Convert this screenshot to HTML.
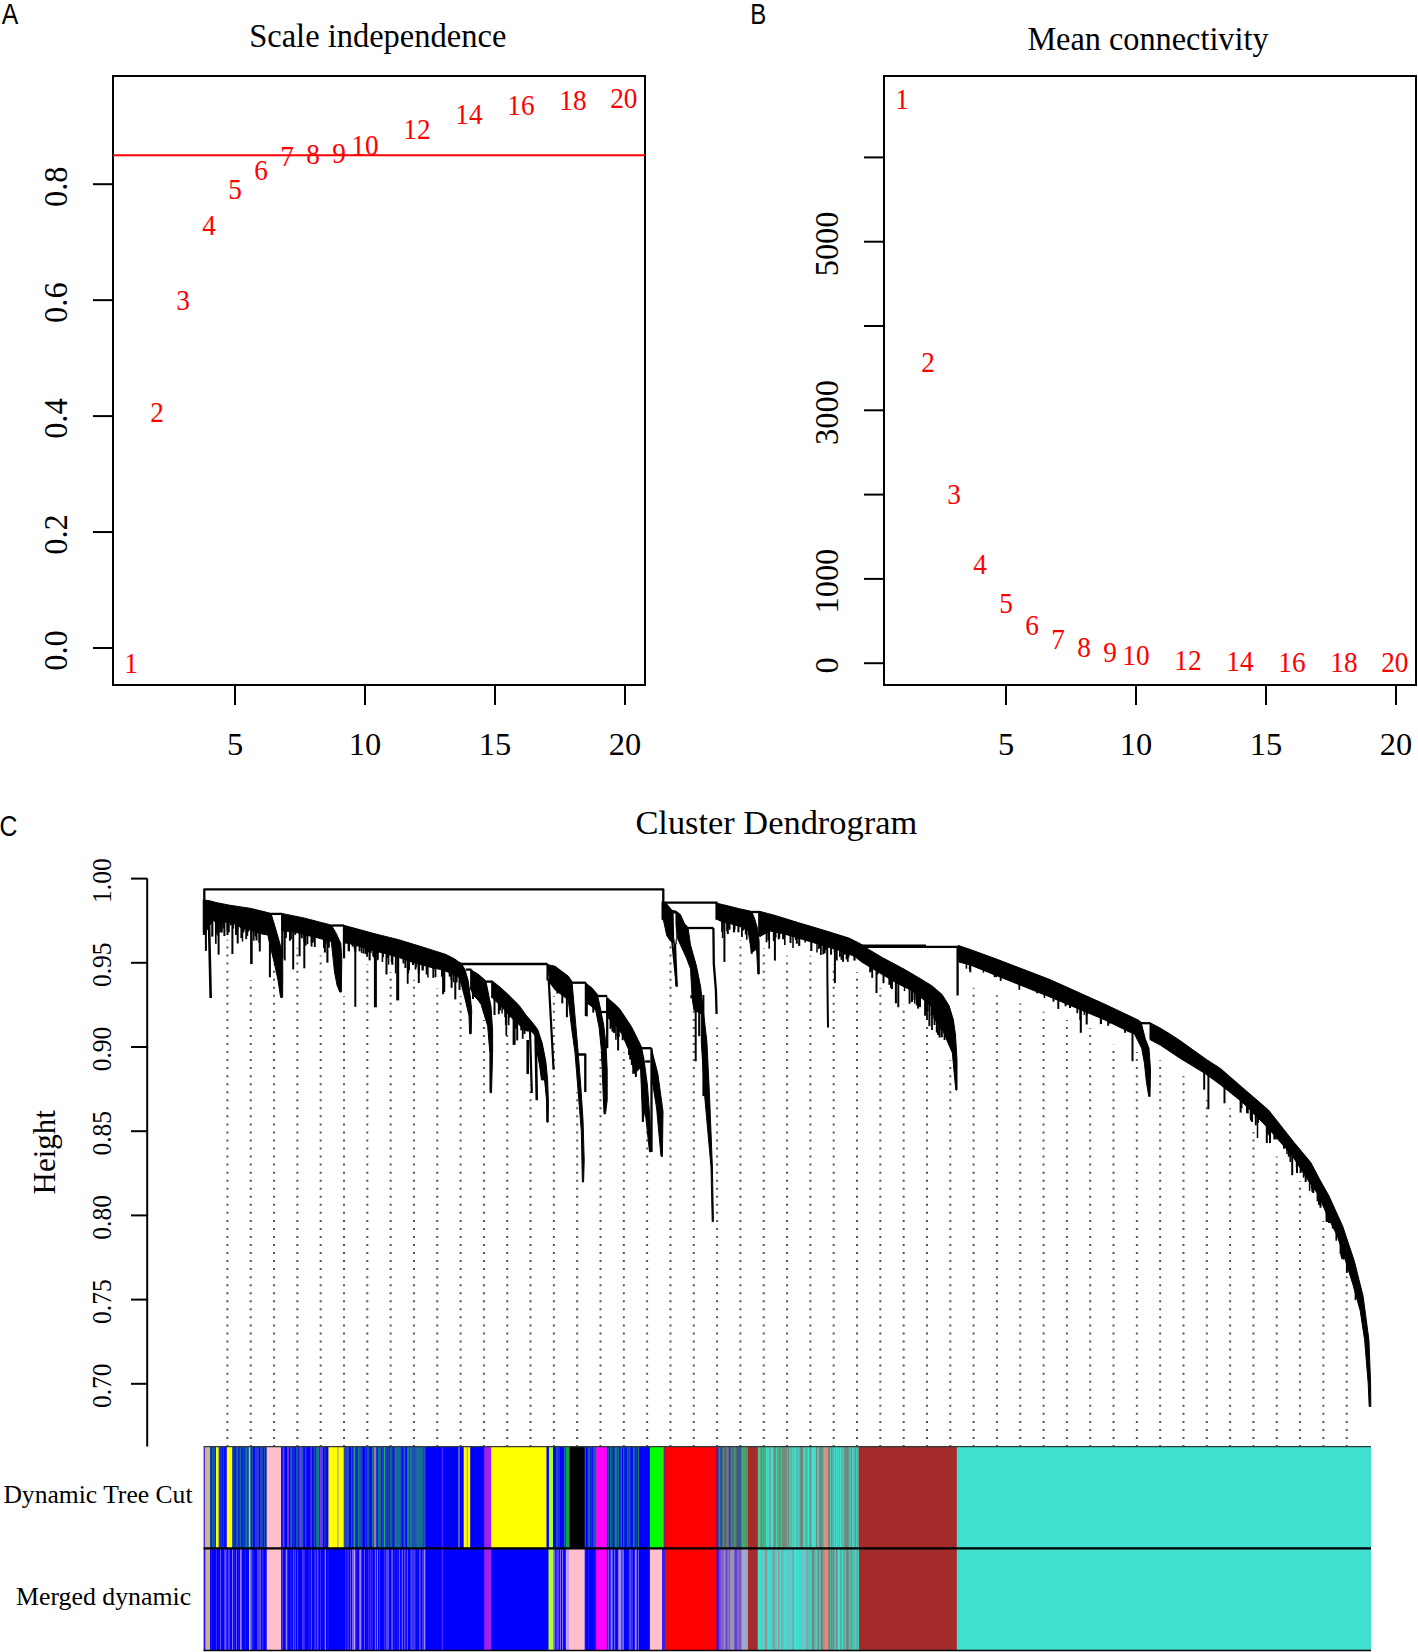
<!DOCTYPE html>
<html><head><meta charset="utf-8"><title>WGCNA figure</title>
<style>html,body{margin:0;padding:0;background:#fff;}svg{display:block;}</style></head>
<body><svg width="1418" height="1652" viewBox="0 0 1418 1652">
<rect x="0" y="0" width="1418" height="1652" fill="#fff"/>
<text transform="translate(1.7 24.1) scale(0.9 1.047)" x="0" y="0" font-family="&apos;Liberation Sans&apos;, sans-serif" font-size="27.5">A</text>
<text transform="translate(377.75 46.50) scale(1 1.03)" x="0" y="0" font-family="&apos;Liberation Serif&apos;, serif" font-size="32.5" text-anchor="middle" fill="#000">Scale independence</text>
<rect x="113" y="76" width="532" height="609" fill="none" stroke="#000" stroke-width="2"/>
<line x1="93.00" y1="648.00" x2="113.00" y2="648.00" stroke="#000" stroke-width="2" />
<text transform="translate(66.80 650.50) rotate(-90) scale(1 1.04)" x="0" y="0" font-family="&apos;Liberation Serif&apos;, serif" font-size="32.4" text-anchor="middle" fill="#000">0.0</text>
<line x1="93.00" y1="532.05" x2="113.00" y2="532.05" stroke="#000" stroke-width="2" />
<text transform="translate(66.80 534.55) rotate(-90) scale(1 1.04)" x="0" y="0" font-family="&apos;Liberation Serif&apos;, serif" font-size="32.4" text-anchor="middle" fill="#000">0.2</text>
<line x1="93.00" y1="416.10" x2="113.00" y2="416.10" stroke="#000" stroke-width="2" />
<text transform="translate(66.80 418.60) rotate(-90) scale(1 1.04)" x="0" y="0" font-family="&apos;Liberation Serif&apos;, serif" font-size="32.4" text-anchor="middle" fill="#000">0.4</text>
<line x1="93.00" y1="300.15" x2="113.00" y2="300.15" stroke="#000" stroke-width="2" />
<text transform="translate(66.80 302.65) rotate(-90) scale(1 1.04)" x="0" y="0" font-family="&apos;Liberation Serif&apos;, serif" font-size="32.4" text-anchor="middle" fill="#000">0.6</text>
<line x1="93.00" y1="184.20" x2="113.00" y2="184.20" stroke="#000" stroke-width="2" />
<text transform="translate(66.80 186.70) rotate(-90) scale(1 1.04)" x="0" y="0" font-family="&apos;Liberation Serif&apos;, serif" font-size="32.4" text-anchor="middle" fill="#000">0.8</text>
<line x1="235.00" y1="685.00" x2="235.00" y2="705.00" stroke="#000" stroke-width="2" />
<text x="235.00" y="755.20" font-family="&apos;Liberation Serif&apos;, serif" font-size="32.4" text-anchor="middle" fill="#000">5</text>
<line x1="365.00" y1="685.00" x2="365.00" y2="705.00" stroke="#000" stroke-width="2" />
<text x="365.00" y="755.20" font-family="&apos;Liberation Serif&apos;, serif" font-size="32.4" text-anchor="middle" fill="#000">10</text>
<line x1="495.00" y1="685.00" x2="495.00" y2="705.00" stroke="#000" stroke-width="2" />
<text x="495.00" y="755.20" font-family="&apos;Liberation Serif&apos;, serif" font-size="32.4" text-anchor="middle" fill="#000">15</text>
<line x1="625.00" y1="685.00" x2="625.00" y2="705.00" stroke="#000" stroke-width="2" />
<text x="625.00" y="755.20" font-family="&apos;Liberation Serif&apos;, serif" font-size="32.4" text-anchor="middle" fill="#000">20</text>
<line x1="113.00" y1="155.20" x2="645.00" y2="155.20" stroke="#FF0000" stroke-width="2" />
<text transform="translate(131.00 672.80) scale(1 1.055)" x="0" y="0" font-family="&apos;Liberation Serif&apos;, serif" font-size="27.3" text-anchor="middle" fill="#FF0000">1</text>
<text transform="translate(157.00 421.90) scale(1 1.055)" x="0" y="0" font-family="&apos;Liberation Serif&apos;, serif" font-size="27.3" text-anchor="middle" fill="#FF0000">2</text>
<text transform="translate(183.00 310.10) scale(1 1.055)" x="0" y="0" font-family="&apos;Liberation Serif&apos;, serif" font-size="27.3" text-anchor="middle" fill="#FF0000">3</text>
<text transform="translate(209.00 234.50) scale(1 1.055)" x="0" y="0" font-family="&apos;Liberation Serif&apos;, serif" font-size="27.3" text-anchor="middle" fill="#FF0000">4</text>
<text transform="translate(235.00 199.20) scale(1 1.055)" x="0" y="0" font-family="&apos;Liberation Serif&apos;, serif" font-size="27.3" text-anchor="middle" fill="#FF0000">5</text>
<text transform="translate(261.00 180.30) scale(1 1.055)" x="0" y="0" font-family="&apos;Liberation Serif&apos;, serif" font-size="27.3" text-anchor="middle" fill="#FF0000">6</text>
<text transform="translate(287.00 165.80) scale(1 1.055)" x="0" y="0" font-family="&apos;Liberation Serif&apos;, serif" font-size="27.3" text-anchor="middle" fill="#FF0000">7</text>
<text transform="translate(313.00 164.00) scale(1 1.055)" x="0" y="0" font-family="&apos;Liberation Serif&apos;, serif" font-size="27.3" text-anchor="middle" fill="#FF0000">8</text>
<text transform="translate(339.00 162.70) scale(1 1.055)" x="0" y="0" font-family="&apos;Liberation Serif&apos;, serif" font-size="27.3" text-anchor="middle" fill="#FF0000">9</text>
<text transform="translate(365.00 155.20) scale(1 1.055)" x="0" y="0" font-family="&apos;Liberation Serif&apos;, serif" font-size="27.3" text-anchor="middle" fill="#FF0000">10</text>
<text transform="translate(417.00 138.50) scale(1 1.055)" x="0" y="0" font-family="&apos;Liberation Serif&apos;, serif" font-size="27.3" text-anchor="middle" fill="#FF0000">12</text>
<text transform="translate(469.00 123.60) scale(1 1.055)" x="0" y="0" font-family="&apos;Liberation Serif&apos;, serif" font-size="27.3" text-anchor="middle" fill="#FF0000">14</text>
<text transform="translate(521.00 114.70) scale(1 1.055)" x="0" y="0" font-family="&apos;Liberation Serif&apos;, serif" font-size="27.3" text-anchor="middle" fill="#FF0000">16</text>
<text transform="translate(573.00 110.20) scale(1 1.055)" x="0" y="0" font-family="&apos;Liberation Serif&apos;, serif" font-size="27.3" text-anchor="middle" fill="#FF0000">18</text>
<text transform="translate(623.80 108.40) scale(1 1.055)" x="0" y="0" font-family="&apos;Liberation Serif&apos;, serif" font-size="27.3" text-anchor="middle" fill="#FF0000">20</text>
<text transform="translate(750.2 24.3) scale(0.87 1.07)" x="0" y="0" font-family="&apos;Liberation Sans&apos;, sans-serif" font-size="27.5">B</text>
<text transform="translate(1148.00 49.60) scale(1 1.05)" x="0" y="0" font-family="&apos;Liberation Serif&apos;, serif" font-size="32.3" text-anchor="middle" fill="#000">Mean connectivity</text>
<rect x="884" y="76" width="532" height="609" fill="none" stroke="#000" stroke-width="2"/>
<line x1="864.00" y1="663.20" x2="884.00" y2="663.20" stroke="#000" stroke-width="2" />
<text transform="translate(838.00 665.40) rotate(-90) scale(1 1.04)" x="0" y="0" font-family="&apos;Liberation Serif&apos;, serif" font-size="32.4" text-anchor="middle" fill="#000">0</text>
<line x1="864.00" y1="578.90" x2="884.00" y2="578.90" stroke="#000" stroke-width="2" />
<text transform="translate(838.00 581.10) rotate(-90) scale(1 1.04)" x="0" y="0" font-family="&apos;Liberation Serif&apos;, serif" font-size="32.4" text-anchor="middle" fill="#000">1000</text>
<line x1="864.00" y1="494.60" x2="884.00" y2="494.60" stroke="#000" stroke-width="2" />
<line x1="864.00" y1="410.30" x2="884.00" y2="410.30" stroke="#000" stroke-width="2" />
<text transform="translate(838.00 412.50) rotate(-90) scale(1 1.04)" x="0" y="0" font-family="&apos;Liberation Serif&apos;, serif" font-size="32.4" text-anchor="middle" fill="#000">3000</text>
<line x1="864.00" y1="326.00" x2="884.00" y2="326.00" stroke="#000" stroke-width="2" />
<line x1="864.00" y1="241.70" x2="884.00" y2="241.70" stroke="#000" stroke-width="2" />
<text transform="translate(838.00 243.90) rotate(-90) scale(1 1.04)" x="0" y="0" font-family="&apos;Liberation Serif&apos;, serif" font-size="32.4" text-anchor="middle" fill="#000">5000</text>
<line x1="864.00" y1="157.40" x2="884.00" y2="157.40" stroke="#000" stroke-width="2" />
<line x1="1006.00" y1="685.00" x2="1006.00" y2="705.00" stroke="#000" stroke-width="2" />
<text x="1006.00" y="755.20" font-family="&apos;Liberation Serif&apos;, serif" font-size="32.4" text-anchor="middle" fill="#000">5</text>
<line x1="1136.00" y1="685.00" x2="1136.00" y2="705.00" stroke="#000" stroke-width="2" />
<text x="1136.00" y="755.20" font-family="&apos;Liberation Serif&apos;, serif" font-size="32.4" text-anchor="middle" fill="#000">10</text>
<line x1="1266.00" y1="685.00" x2="1266.00" y2="705.00" stroke="#000" stroke-width="2" />
<text x="1266.00" y="755.20" font-family="&apos;Liberation Serif&apos;, serif" font-size="32.4" text-anchor="middle" fill="#000">15</text>
<line x1="1396.00" y1="685.00" x2="1396.00" y2="705.00" stroke="#000" stroke-width="2" />
<text x="1396.00" y="755.20" font-family="&apos;Liberation Serif&apos;, serif" font-size="32.4" text-anchor="middle" fill="#000">20</text>
<text transform="translate(902.00 108.90) scale(1 1.055)" x="0" y="0" font-family="&apos;Liberation Serif&apos;, serif" font-size="27.3" text-anchor="middle" fill="#FF0000">1</text>
<text transform="translate(928.00 371.60) scale(1 1.055)" x="0" y="0" font-family="&apos;Liberation Serif&apos;, serif" font-size="27.3" text-anchor="middle" fill="#FF0000">2</text>
<text transform="translate(954.00 504.20) scale(1 1.055)" x="0" y="0" font-family="&apos;Liberation Serif&apos;, serif" font-size="27.3" text-anchor="middle" fill="#FF0000">3</text>
<text transform="translate(980.00 574.20) scale(1 1.055)" x="0" y="0" font-family="&apos;Liberation Serif&apos;, serif" font-size="27.3" text-anchor="middle" fill="#FF0000">4</text>
<text transform="translate(1006.00 613.00) scale(1 1.055)" x="0" y="0" font-family="&apos;Liberation Serif&apos;, serif" font-size="27.3" text-anchor="middle" fill="#FF0000">5</text>
<text transform="translate(1032.00 634.80) scale(1 1.055)" x="0" y="0" font-family="&apos;Liberation Serif&apos;, serif" font-size="27.3" text-anchor="middle" fill="#FF0000">6</text>
<text transform="translate(1058.00 648.90) scale(1 1.055)" x="0" y="0" font-family="&apos;Liberation Serif&apos;, serif" font-size="27.3" text-anchor="middle" fill="#FF0000">7</text>
<text transform="translate(1084.00 656.70) scale(1 1.055)" x="0" y="0" font-family="&apos;Liberation Serif&apos;, serif" font-size="27.3" text-anchor="middle" fill="#FF0000">8</text>
<text transform="translate(1110.00 662.00) scale(1 1.055)" x="0" y="0" font-family="&apos;Liberation Serif&apos;, serif" font-size="27.3" text-anchor="middle" fill="#FF0000">9</text>
<text transform="translate(1136.00 665.10) scale(1 1.055)" x="0" y="0" font-family="&apos;Liberation Serif&apos;, serif" font-size="27.3" text-anchor="middle" fill="#FF0000">10</text>
<text transform="translate(1188.00 669.50) scale(1 1.055)" x="0" y="0" font-family="&apos;Liberation Serif&apos;, serif" font-size="27.3" text-anchor="middle" fill="#FF0000">12</text>
<text transform="translate(1240.00 670.80) scale(1 1.055)" x="0" y="0" font-family="&apos;Liberation Serif&apos;, serif" font-size="27.3" text-anchor="middle" fill="#FF0000">14</text>
<text transform="translate(1292.00 671.90) scale(1 1.055)" x="0" y="0" font-family="&apos;Liberation Serif&apos;, serif" font-size="27.3" text-anchor="middle" fill="#FF0000">16</text>
<text transform="translate(1344.00 672.30) scale(1 1.055)" x="0" y="0" font-family="&apos;Liberation Serif&apos;, serif" font-size="27.3" text-anchor="middle" fill="#FF0000">18</text>
<text transform="translate(1394.80 672.40) scale(1 1.055)" x="0" y="0" font-family="&apos;Liberation Serif&apos;, serif" font-size="27.3" text-anchor="middle" fill="#FF0000">20</text>
<text transform="translate(-0.4 836.3) scale(0.9 1.04)" x="0" y="0" font-family="&apos;Liberation Sans&apos;, sans-serif" font-size="27.5">C</text>
<text x="776.30" y="834.40" font-family="&apos;Liberation Serif&apos;, serif" font-size="34.4" text-anchor="middle" fill="#000">Cluster Dendrogram</text>
<line x1="147.20" y1="878.60" x2="147.20" y2="1446.50" stroke="#000" stroke-width="2" />
<line x1="131.00" y1="878.60" x2="147.20" y2="878.60" stroke="#000" stroke-width="2" />
<text transform="translate(111.30 880.60) rotate(-90) scale(1 1.03)" x="0" y="0" font-family="&apos;Liberation Serif&apos;, serif" font-size="25.5" text-anchor="middle" fill="#000">1.00</text>
<line x1="131.00" y1="962.80" x2="147.20" y2="962.80" stroke="#000" stroke-width="2" />
<text transform="translate(111.30 964.80) rotate(-90) scale(1 1.03)" x="0" y="0" font-family="&apos;Liberation Serif&apos;, serif" font-size="25.5" text-anchor="middle" fill="#000">0.95</text>
<line x1="131.00" y1="1047.00" x2="147.20" y2="1047.00" stroke="#000" stroke-width="2" />
<text transform="translate(111.30 1049.00) rotate(-90) scale(1 1.03)" x="0" y="0" font-family="&apos;Liberation Serif&apos;, serif" font-size="25.5" text-anchor="middle" fill="#000">0.90</text>
<line x1="131.00" y1="1131.20" x2="147.20" y2="1131.20" stroke="#000" stroke-width="2" />
<text transform="translate(111.30 1133.20) rotate(-90) scale(1 1.03)" x="0" y="0" font-family="&apos;Liberation Serif&apos;, serif" font-size="25.5" text-anchor="middle" fill="#000">0.85</text>
<line x1="131.00" y1="1215.40" x2="147.20" y2="1215.40" stroke="#000" stroke-width="2" />
<text transform="translate(111.30 1217.40) rotate(-90) scale(1 1.03)" x="0" y="0" font-family="&apos;Liberation Serif&apos;, serif" font-size="25.5" text-anchor="middle" fill="#000">0.80</text>
<line x1="131.00" y1="1299.60" x2="147.20" y2="1299.60" stroke="#000" stroke-width="2" />
<text transform="translate(111.30 1301.60) rotate(-90) scale(1 1.03)" x="0" y="0" font-family="&apos;Liberation Serif&apos;, serif" font-size="25.5" text-anchor="middle" fill="#000">0.75</text>
<line x1="131.00" y1="1383.80" x2="147.20" y2="1383.80" stroke="#000" stroke-width="2" />
<text transform="translate(111.30 1385.80) rotate(-90) scale(1 1.03)" x="0" y="0" font-family="&apos;Liberation Serif&apos;, serif" font-size="25.5" text-anchor="middle" fill="#000">0.70</text>
<text transform="translate(54.50 1152.30) rotate(-90) scale(1 1.05)" x="0" y="0" font-family="&apos;Liberation Serif&apos;, serif" font-size="31" text-anchor="middle" fill="#000">Height</text>
<text x="192.50" y="1502.60" font-family="&apos;Liberation Serif&apos;, serif" font-size="25.6" text-anchor="end" fill="#000">Dynamic Tree Cut</text>
<text x="191.10" y="1604.80" font-family="&apos;Liberation Serif&apos;, serif" font-size="25.8" text-anchor="end" fill="#000">Merged dynamic</text>
<g stroke="#555" stroke-width="2" stroke-dasharray="2 6.04"><line x1="227.40" y1="1447" x2="227.40" y2="939.8" /><line x1="250.72" y1="1447" x2="250.72" y2="980.0" /><line x1="274.04" y1="1447" x2="274.04" y2="964.0" /><line x1="297.36" y1="1447" x2="297.36" y2="947.7" /><line x1="320.68" y1="1447" x2="320.68" y2="955.6" /><line x1="344.00" y1="1447" x2="344.00" y2="996.0" /><line x1="367.31" y1="1447" x2="367.31" y2="964.0" /><line x1="390.63" y1="1447" x2="390.63" y2="971.9" /><line x1="413.95" y1="1447" x2="413.95" y2="979.8" /><line x1="437.27" y1="1447" x2="437.27" y2="988.3" /><line x1="460.59" y1="1447" x2="460.59" y2="996.0" /><line x1="483.91" y1="1447" x2="483.91" y2="1020.0" /><line x1="507.23" y1="1447" x2="507.23" y2="1028.4" /><line x1="530.55" y1="1447" x2="530.55" y2="1084.5" /><line x1="553.87" y1="1447" x2="553.87" y2="996.0" /><line x1="577.18" y1="1447" x2="577.18" y2="1092.0" /><line x1="600.50" y1="1447" x2="600.50" y2="1052.3" /><line x1="623.82" y1="1447" x2="623.82" y2="1052.2" /><line x1="647.14" y1="1447" x2="647.14" y2="1124.1" /><line x1="670.46" y1="1447" x2="670.46" y2="940.0" /><line x1="693.78" y1="1447" x2="693.78" y2="1004.0" /><line x1="717.10" y1="1447" x2="717.10" y2="1027.4" /><line x1="740.42" y1="1447" x2="740.42" y2="939.9" /><line x1="763.74" y1="1447" x2="763.74" y2="948.0" /><line x1="787.06" y1="1447" x2="787.06" y2="955.7" /><line x1="810.38" y1="1447" x2="810.38" y2="955.7" /><line x1="833.69" y1="1447" x2="833.69" y2="964.2" /><line x1="857.01" y1="1447" x2="857.01" y2="971.9" /><line x1="880.33" y1="1447" x2="880.33" y2="988.1" /><line x1="903.65" y1="1447" x2="903.65" y2="1004.4" /><line x1="926.97" y1="1447" x2="926.97" y2="1024.9" /><line x1="950.29" y1="1447" x2="950.29" y2="1060.3" /><line x1="973.61" y1="1447" x2="973.61" y2="987.8" /><line x1="996.93" y1="1447" x2="996.93" y2="995.2" /><line x1="1020.25" y1="1447" x2="1020.25" y2="1003.4" /><line x1="1043.57" y1="1447" x2="1043.57" y2="1011.7" /><line x1="1066.88" y1="1447" x2="1066.88" y2="1019.9" /><line x1="1090.20" y1="1447" x2="1090.20" y2="1028.2" /><line x1="1113.52" y1="1447" x2="1113.52" y2="1044.7" /><line x1="1136.84" y1="1447" x2="1136.84" y2="1052.0" /><line x1="1160.16" y1="1447" x2="1160.16" y2="1060.2" /><line x1="1183.48" y1="1447" x2="1183.48" y2="1076.0" /><line x1="1206.80" y1="1447" x2="1206.80" y2="1099.9" /><line x1="1230.12" y1="1447" x2="1230.12" y2="1108.3" /><line x1="1253.44" y1="1447" x2="1253.44" y2="1132.0" /><line x1="1276.76" y1="1447" x2="1276.76" y2="1156.6" /><line x1="1300.07" y1="1447" x2="1300.07" y2="1181.1" /><line x1="1323.39" y1="1447" x2="1323.39" y2="1220.9" /><line x1="1346.71" y1="1447" x2="1346.71" y2="1276.6" /></g>
<polyline points="204.3,900.5 204.3,889.4 663.3,889.4 663.3,903.0" fill="none" stroke="#000" stroke-width="2.3" stroke-linejoin="round"/>
<polygon points="203.3,899.8 210.7,901.0 216.0,902.5 229.7,905.2 250.9,908.4 267.8,912.6 271.0,913.4 276.0,930.0 280.0,944.0 282.6,955.1 282.8,975.0 282.6,997.4 280.6,997.4 278.0,980.0 274.2,962.5 270.0,945.0 267.8,935.0 262.0,934.0 255.0,932.0 250.0,930.0 244.0,929.0 238.0,926.0 233.0,923.0 225.0,922.0 218.0,925.0 213.0,920.0 210.0,925.0 207.0,930.0 203.3,932.0" fill="#000" stroke="#000" stroke-width="1" stroke-linejoin="round"/>
<line x1="205.9" y1="910.2" x2="205.9" y2="950.9" stroke="#000" stroke-width="2.0" stroke-linecap="butt"/>
<line x1="218.6" y1="913.0" x2="218.6" y2="954.6" stroke="#000" stroke-width="2.0" stroke-linecap="butt"/>
<line x1="224.4" y1="914.2" x2="224.4" y2="936.0" stroke="#000" stroke-width="2.0" stroke-linecap="butt"/>
<line x1="227.5" y1="914.8" x2="227.5" y2="935.0" stroke="#000" stroke-width="2.0" stroke-linecap="butt"/>
<line x1="232.4" y1="915.6" x2="232.4" y2="954.0" stroke="#000" stroke-width="2.0" stroke-linecap="butt"/>
<line x1="237.7" y1="916.4" x2="237.7" y2="943.5" stroke="#000" stroke-width="2.0" stroke-linecap="butt"/>
<line x1="241.4" y1="917.0" x2="241.4" y2="938.2" stroke="#000" stroke-width="2.0" stroke-linecap="butt"/>
<line x1="246.7" y1="917.8" x2="246.7" y2="933.0" stroke="#000" stroke-width="2.0" stroke-linecap="butt"/>
<line x1="251.4" y1="918.5" x2="251.4" y2="964.1" stroke="#000" stroke-width="2.6" stroke-linecap="butt"/>
<line x1="255.1" y1="919.4" x2="255.1" y2="931.8" stroke="#000" stroke-width="2.0" stroke-linecap="butt"/>
<line x1="260.4" y1="920.8" x2="260.4" y2="933.0" stroke="#000" stroke-width="2.0" stroke-linecap="butt"/>
<line x1="265.7" y1="922.1" x2="265.7" y2="934.0" stroke="#000" stroke-width="2.0" stroke-linecap="butt"/>
<line x1="269.9" y1="923.1" x2="269.9" y2="977.3" stroke="#000" stroke-width="2.0" stroke-linecap="butt"/>
<line x1="273.1" y1="923.4" x2="273.1" y2="950.9" stroke="#000" stroke-width="2.0" stroke-linecap="butt"/>
<polyline points="208.6,905.0 210.7,998.0" fill="none" stroke="#000" stroke-width="2.6" stroke-linejoin="round"/>
<line x1="204.2" y1="900.0" x2="204.2" y2="935.0" stroke="#000" stroke-width="2.6" stroke-linecap="butt"/>
<line x1="271.0" y1="913.9" x2="282.0" y2="913.9" stroke="#000" stroke-width="2.3" stroke-linecap="butt"/>
<line x1="243.4" y1="924.7" x2="243.4" y2="932.4" stroke="#000" stroke-width="2.1391811213414353" stroke-linecap="butt"/>
<line x1="237.2" y1="921.5" x2="237.2" y2="933.5" stroke="#000" stroke-width="1.5773569996209926" stroke-linecap="butt"/>
<line x1="227.6" y1="918.3" x2="227.6" y2="930.6" stroke="#000" stroke-width="2.176884761083019" stroke-linecap="butt"/>
<line x1="215.8" y1="918.8" x2="215.8" y2="943.8" stroke="#000" stroke-width="1.6932119798160274" stroke-linecap="butt"/>
<line x1="237.5" y1="921.7" x2="237.5" y2="930.6" stroke="#000" stroke-width="1.7231154645818594" stroke-linecap="butt"/>
<line x1="223.2" y1="918.8" x2="223.2" y2="928.6" stroke="#000" stroke-width="1.4886393168704377" stroke-linecap="butt"/>
<line x1="256.5" y1="928.4" x2="256.5" y2="940.5" stroke="#000" stroke-width="2.1059572533805286" stroke-linecap="butt"/>
<line x1="233.3" y1="919.2" x2="233.3" y2="928.6" stroke="#000" stroke-width="1.7236435457734407" stroke-linecap="butt"/>
<line x1="248.1" y1="925.7" x2="248.1" y2="931.7" stroke="#000" stroke-width="1.8280668562334768" stroke-linecap="butt"/>
<line x1="230.7" y1="918.7" x2="230.7" y2="924.9" stroke="#000" stroke-width="1.4075550869826396" stroke-linecap="butt"/>
<line x1="242.5" y1="924.2" x2="242.5" y2="941.6" stroke="#000" stroke-width="1.4525912330365607" stroke-linecap="butt"/>
<line x1="220.1" y1="920.1" x2="220.1" y2="932.2" stroke="#000" stroke-width="1.6902274960065835" stroke-linecap="butt"/>
<line x1="247.2" y1="925.5" x2="247.2" y2="935.8" stroke="#000" stroke-width="2.10072070068381" stroke-linecap="butt"/>
<line x1="228.8" y1="918.5" x2="228.8" y2="932.3" stroke="#000" stroke-width="1.9467652313294008" stroke-linecap="butt"/>
<line x1="212.3" y1="917.1" x2="212.3" y2="936.6" stroke="#000" stroke-width="2.1568787378200387" stroke-linecap="butt"/>
<line x1="259.3" y1="929.2" x2="259.3" y2="942.8" stroke="#000" stroke-width="1.9645796096913297" stroke-linecap="butt"/>
<line x1="253.8" y1="927.5" x2="253.8" y2="940.8" stroke="#000" stroke-width="1.5122526686535367" stroke-linecap="butt"/>
<line x1="221.7" y1="919.4" x2="221.7" y2="932.6" stroke="#000" stroke-width="2.113959530278061" stroke-linecap="butt"/>
<line x1="236.1" y1="920.9" x2="236.1" y2="934.9" stroke="#000" stroke-width="2.165698785483752" stroke-linecap="butt"/>
<line x1="259.8" y1="929.4" x2="259.8" y2="951.5" stroke="#000" stroke-width="1.9513643920335757" stroke-linecap="butt"/>
<line x1="230.9" y1="918.7" x2="230.9" y2="925.3" stroke="#000" stroke-width="2.0596012790654585" stroke-linecap="butt"/>
<line x1="216.9" y1="919.9" x2="216.9" y2="934.3" stroke="#000" stroke-width="1.5635504807530705" stroke-linecap="butt"/>
<line x1="218.1" y1="921.0" x2="218.1" y2="935.8" stroke="#000" stroke-width="1.6553241684695932" stroke-linecap="butt"/>
<line x1="217.2" y1="920.2" x2="217.2" y2="932.0" stroke="#000" stroke-width="1.4096889556297332" stroke-linecap="butt"/>
<line x1="246.2" y1="925.4" x2="246.2" y2="939.1" stroke="#000" stroke-width="1.8555000486639623" stroke-linecap="butt"/>
<line x1="255.4" y1="928.1" x2="255.4" y2="936.3" stroke="#000" stroke-width="1.9283264767871677" stroke-linecap="butt"/>
<polygon points="281.6,913.4 303.8,917.9 330.2,924.8 331.5,925.3 336.0,933.0 340.8,943.5 341.8,960.0 341.3,992.1 339.8,992.1 337.0,985.0 334.5,972.0 331.3,941.4 325.0,940.0 315.0,937.0 305.0,935.0 295.0,932.0 285.0,931.0 282.0,931.0" fill="#000" stroke="#000" stroke-width="1" stroke-linejoin="round"/>
<line x1="282.3" y1="913.4" x2="282.3" y2="958.0" stroke="#000" stroke-width="2.3" stroke-linecap="butt"/>
<line x1="284.7" y1="924.0" x2="284.7" y2="960.4" stroke="#000" stroke-width="2.0" stroke-linecap="butt"/>
<line x1="293.2" y1="925.8" x2="293.2" y2="969.4" stroke="#000" stroke-width="2.0" stroke-linecap="butt"/>
<line x1="299.6" y1="927.0" x2="299.6" y2="956.2" stroke="#000" stroke-width="2.0" stroke-linecap="butt"/>
<line x1="304.3" y1="928.0" x2="304.3" y2="968.3" stroke="#000" stroke-width="2.0" stroke-linecap="butt"/>
<line x1="311.7" y1="930.0" x2="311.7" y2="942.4" stroke="#000" stroke-width="2.0" stroke-linecap="butt"/>
<line x1="324.9" y1="933.4" x2="324.9" y2="952.5" stroke="#000" stroke-width="2.0" stroke-linecap="butt"/>
<line x1="331.3" y1="925.5" x2="344.0" y2="925.5" stroke="#000" stroke-width="2.3" stroke-linecap="butt"/>
<line x1="290.8" y1="927.6" x2="290.8" y2="939.1" stroke="#000" stroke-width="1.970005557900166" stroke-linecap="butt"/>
<line x1="312.0" y1="932.4" x2="312.0" y2="941.9" stroke="#000" stroke-width="1.85300194967576" stroke-linecap="butt"/>
<line x1="286.0" y1="927.1" x2="286.0" y2="937.9" stroke="#000" stroke-width="1.815687208682199" stroke-linecap="butt"/>
<line x1="324.5" y1="935.8" x2="324.5" y2="948.5" stroke="#000" stroke-width="1.581471803844555" stroke-linecap="butt"/>
<line x1="289.9" y1="927.5" x2="289.9" y2="940.8" stroke="#000" stroke-width="1.8874540601691379" stroke-linecap="butt"/>
<line x1="304.3" y1="930.8" x2="304.3" y2="941.3" stroke="#000" stroke-width="1.8243273766376888" stroke-linecap="butt"/>
<line x1="290.7" y1="927.6" x2="290.7" y2="939.2" stroke="#000" stroke-width="1.9362343792229524" stroke-linecap="butt"/>
<line x1="295.3" y1="928.1" x2="295.3" y2="934.9" stroke="#000" stroke-width="1.9501017582087872" stroke-linecap="butt"/>
<line x1="307.5" y1="931.5" x2="307.5" y2="944.2" stroke="#000" stroke-width="1.7187485047187807" stroke-linecap="butt"/>
<line x1="325.7" y1="936.2" x2="325.7" y2="943.7" stroke="#000" stroke-width="1.8710487499072976" stroke-linecap="butt"/>
<line x1="313.0" y1="932.6" x2="313.0" y2="942.5" stroke="#000" stroke-width="1.7524668393412106" stroke-linecap="butt"/>
<line x1="314.8" y1="933.0" x2="314.8" y2="947.0" stroke="#000" stroke-width="1.9113881274601927" stroke-linecap="butt"/>
<line x1="305.6" y1="931.1" x2="305.6" y2="945.7" stroke="#000" stroke-width="1.900578081548477" stroke-linecap="butt"/>
<line x1="324.0" y1="935.7" x2="324.0" y2="947.8" stroke="#000" stroke-width="1.994411731987956" stroke-linecap="butt"/>
<line x1="311.6" y1="932.3" x2="311.6" y2="946.6" stroke="#000" stroke-width="1.8269363572423647" stroke-linecap="butt"/>
<line x1="328.8" y1="936.8" x2="328.8" y2="947.6" stroke="#000" stroke-width="2.150164833509572" stroke-linecap="butt"/>
<line x1="327.4" y1="936.5" x2="327.4" y2="962.7" stroke="#000" stroke-width="2.106185703945969" stroke-linecap="butt"/>
<line x1="301.7" y1="930.0" x2="301.7" y2="938.3" stroke="#000" stroke-width="2.1520887385133576" stroke-linecap="butt"/>
<polygon points="343.7,925.3 353.8,928.0 374.9,933.8 398.2,939.6 419.3,946.0 445.8,954.4 454.3,958.7 458.5,961.8 461.0,963.0 464.8,969.2 468.0,980.0 470.1,994.6 471.7,1010.5 471.2,1033.8 469.6,1033.8 469.0,1015.8 464.8,997.8 459.5,977.7 451.1,973.5 443.7,970.3 429.9,967.1 414.0,962.9 399.2,957.6 384.4,953.4 371.7,950.2 361.2,947.0 350.6,943.9 344.2,942.8" fill="#000" stroke="#000" stroke-width="1" stroke-linejoin="round"/>
<line x1="344.0" y1="925.5" x2="344.0" y2="958.3" stroke="#000" stroke-width="2.3" stroke-linecap="butt"/>
<line x1="349.0" y1="938.7" x2="349.0" y2="951.3" stroke="#000" stroke-width="2.0" stroke-linecap="butt"/>
<line x1="355.3" y1="940.4" x2="355.3" y2="1006.8" stroke="#000" stroke-width="2.0" stroke-linecap="butt"/>
<line x1="359.6" y1="941.6" x2="359.6" y2="951.3" stroke="#000" stroke-width="2.0" stroke-linecap="butt"/>
<line x1="368.6" y1="944.1" x2="368.6" y2="952.3" stroke="#000" stroke-width="2.0" stroke-linecap="butt"/>
<line x1="375.4" y1="945.9" x2="375.4" y2="1007.3" stroke="#000" stroke-width="3" stroke-linecap="butt"/>
<line x1="386.5" y1="948.7" x2="386.5" y2="974.5" stroke="#000" stroke-width="2.0" stroke-linecap="butt"/>
<line x1="391.8" y1="950.0" x2="391.8" y2="961.8" stroke="#000" stroke-width="2.0" stroke-linecap="butt"/>
<line x1="397.7" y1="951.5" x2="397.7" y2="1000.4" stroke="#000" stroke-width="3" stroke-linecap="butt"/>
<line x1="403.5" y1="953.2" x2="403.5" y2="963.4" stroke="#000" stroke-width="2.0" stroke-linecap="butt"/>
<line x1="408.2" y1="954.6" x2="408.2" y2="973.5" stroke="#000" stroke-width="2.0" stroke-linecap="butt"/>
<line x1="413.0" y1="956.1" x2="413.0" y2="965.0" stroke="#000" stroke-width="2.0" stroke-linecap="butt"/>
<line x1="418.8" y1="957.8" x2="418.8" y2="983.0" stroke="#000" stroke-width="2.0" stroke-linecap="butt"/>
<line x1="422.5" y1="959.0" x2="422.5" y2="970.3" stroke="#000" stroke-width="2.0" stroke-linecap="butt"/>
<line x1="426.7" y1="960.3" x2="426.7" y2="974.5" stroke="#000" stroke-width="2.0" stroke-linecap="butt"/>
<line x1="433.6" y1="962.5" x2="433.6" y2="969.2" stroke="#000" stroke-width="2.0" stroke-linecap="butt"/>
<line x1="444.2" y1="965.9" x2="444.2" y2="992.0" stroke="#000" stroke-width="2.0" stroke-linecap="butt"/>
<line x1="451.6" y1="969.3" x2="451.6" y2="987.8" stroke="#000" stroke-width="2.0" stroke-linecap="butt"/>
<line x1="455.3" y1="971.4" x2="455.3" y2="999.4" stroke="#000" stroke-width="2.0" stroke-linecap="butt"/>
<line x1="459.5" y1="974.3" x2="459.5" y2="989.9" stroke="#000" stroke-width="2.0" stroke-linecap="butt"/>
<line x1="459.5" y1="964.0" x2="547.6" y2="964.0" stroke="#000" stroke-width="2.3" stroke-linecap="butt"/>
<line x1="456.6" y1="972.3" x2="456.6" y2="982.4" stroke="#000" stroke-width="1.9879089940682717" stroke-linecap="butt"/>
<line x1="369.5" y1="945.5" x2="369.5" y2="952.2" stroke="#000" stroke-width="1.4975356021781459" stroke-linecap="butt"/>
<line x1="388.6" y1="950.6" x2="388.6" y2="964.6" stroke="#000" stroke-width="1.4949512391633393" stroke-linecap="butt"/>
<line x1="354.4" y1="941.0" x2="354.4" y2="949.0" stroke="#000" stroke-width="1.4197795810941405" stroke-linecap="butt"/>
<line x1="370.7" y1="945.9" x2="370.7" y2="952.9" stroke="#000" stroke-width="1.8187399881701147" stroke-linecap="butt"/>
<line x1="365.9" y1="944.4" x2="365.9" y2="954.1" stroke="#000" stroke-width="1.9783964256809206" stroke-linecap="butt"/>
<line x1="392.3" y1="951.6" x2="392.3" y2="964.7" stroke="#000" stroke-width="2.0615681208227237" stroke-linecap="butt"/>
<line x1="373.4" y1="946.6" x2="373.4" y2="955.9" stroke="#000" stroke-width="2.156715128978112" stroke-linecap="butt"/>
<line x1="415.5" y1="959.3" x2="415.5" y2="969.6" stroke="#000" stroke-width="1.625066977183537" stroke-linecap="butt"/>
<line x1="369.6" y1="945.6" x2="369.6" y2="960.4" stroke="#000" stroke-width="2.1156496313787967" stroke-linecap="butt"/>
<line x1="405.3" y1="955.8" x2="405.3" y2="968.1" stroke="#000" stroke-width="1.7852563967275468" stroke-linecap="butt"/>
<line x1="361.6" y1="943.1" x2="361.6" y2="952.9" stroke="#000" stroke-width="1.4799813716484598" stroke-linecap="butt"/>
<line x1="449.8" y1="968.9" x2="449.8" y2="975.8" stroke="#000" stroke-width="1.95966324103436" stroke-linecap="butt"/>
<line x1="355.3" y1="941.3" x2="355.3" y2="951.6" stroke="#000" stroke-width="2.1894898826660776" stroke-linecap="butt"/>
<line x1="409.2" y1="957.2" x2="409.2" y2="970.1" stroke="#000" stroke-width="1.633418285965955" stroke-linecap="butt"/>
<line x1="407.7" y1="956.6" x2="407.7" y2="968.0" stroke="#000" stroke-width="2.0551992698265824" stroke-linecap="butt"/>
<line x1="395.6" y1="952.6" x2="395.6" y2="973.4" stroke="#000" stroke-width="1.4355492492004507" stroke-linecap="butt"/>
<line x1="418.7" y1="960.2" x2="418.7" y2="974.0" stroke="#000" stroke-width="1.8523135974274236" stroke-linecap="butt"/>
<line x1="416.0" y1="959.4" x2="416.0" y2="967.5" stroke="#000" stroke-width="1.8628149037624095" stroke-linecap="butt"/>
<line x1="418.7" y1="960.1" x2="418.7" y2="969.6" stroke="#000" stroke-width="1.664630890423082" stroke-linecap="butt"/>
<line x1="408.2" y1="956.8" x2="408.2" y2="968.9" stroke="#000" stroke-width="1.947997520257985" stroke-linecap="butt"/>
<line x1="441.8" y1="965.9" x2="441.8" y2="976.7" stroke="#000" stroke-width="1.647599931935198" stroke-linecap="butt"/>
<line x1="449.8" y1="969.0" x2="449.8" y2="976.6" stroke="#000" stroke-width="2.0534822559173103" stroke-linecap="butt"/>
<line x1="348.7" y1="939.6" x2="348.7" y2="951.1" stroke="#000" stroke-width="2.155195824259559" stroke-linecap="butt"/>
<line x1="422.8" y1="961.2" x2="422.8" y2="970.3" stroke="#000" stroke-width="1.9049139961502721" stroke-linecap="butt"/>
<line x1="352.6" y1="940.5" x2="352.6" y2="946.7" stroke="#000" stroke-width="1.9015211089490003" stroke-linecap="butt"/>
<line x1="363.6" y1="943.7" x2="363.6" y2="953.6" stroke="#000" stroke-width="2.0954299617523744" stroke-linecap="butt"/>
<line x1="377.6" y1="947.7" x2="377.6" y2="960.2" stroke="#000" stroke-width="1.6550070727716801" stroke-linecap="butt"/>
<line x1="373.7" y1="946.7" x2="373.7" y2="957.4" stroke="#000" stroke-width="1.8751847413260891" stroke-linecap="butt"/>
<line x1="382.4" y1="948.9" x2="382.4" y2="962.0" stroke="#000" stroke-width="1.508914479365908" stroke-linecap="butt"/>
<line x1="433.3" y1="963.9" x2="433.3" y2="977.9" stroke="#000" stroke-width="1.837215314270933" stroke-linecap="butt"/>
<line x1="444.4" y1="966.6" x2="444.4" y2="987.9" stroke="#000" stroke-width="1.4151859750208384" stroke-linecap="butt"/>
<line x1="383.0" y1="949.1" x2="383.0" y2="957.2" stroke="#000" stroke-width="1.9418390415706368" stroke-linecap="butt"/>
<line x1="443.1" y1="966.2" x2="443.1" y2="994.2" stroke="#000" stroke-width="2.025696251913371" stroke-linecap="butt"/>
<line x1="407.7" y1="956.7" x2="407.7" y2="983.8" stroke="#000" stroke-width="1.8234844824724141" stroke-linecap="butt"/>
<line x1="443.0" y1="966.1" x2="443.0" y2="979.2" stroke="#000" stroke-width="2.044200864804147" stroke-linecap="butt"/>
<line x1="373.9" y1="946.8" x2="373.9" y2="955.0" stroke="#000" stroke-width="2.0141048734810405" stroke-linecap="butt"/>
<line x1="435.5" y1="964.4" x2="435.5" y2="977.2" stroke="#000" stroke-width="1.7813951927267067" stroke-linecap="butt"/>
<line x1="367.1" y1="944.8" x2="367.1" y2="956.8" stroke="#000" stroke-width="1.8115743307306285" stroke-linecap="butt"/>
<line x1="427.9" y1="962.6" x2="427.9" y2="977.4" stroke="#000" stroke-width="1.4857154807789092" stroke-linecap="butt"/>
<line x1="377.8" y1="947.7" x2="377.8" y2="959.2" stroke="#000" stroke-width="1.6275976841740531" stroke-linecap="butt"/>
<line x1="451.1" y1="969.5" x2="451.1" y2="979.7" stroke="#000" stroke-width="1.441853175518379" stroke-linecap="butt"/>
<line x1="376.8" y1="947.5" x2="376.8" y2="953.7" stroke="#000" stroke-width="1.817520360779703" stroke-linecap="butt"/>
<line x1="453.6" y1="970.8" x2="453.6" y2="982.2" stroke="#000" stroke-width="1.6852746466556052" stroke-linecap="butt"/>
<line x1="387.8" y1="950.4" x2="387.8" y2="958.1" stroke="#000" stroke-width="1.9197590170500032" stroke-linecap="butt"/>
<line x1="465.9" y1="969.6" x2="471.3" y2="969.6" stroke="#000" stroke-width="2.3" stroke-linecap="butt"/>
<polygon points="471.3,970.2 478.0,974.0 485.5,980.5 486.0,981.6 491.0,1006.6 492.6,1030.0 492.6,1053.5 491.5,1092.7 490.0,1092.7 489.9,1053.5 487.7,1026.3 481.1,1004.5 478.0,1000.0 473.0,995.0 471.3,990.0" fill="#000" stroke="#000" stroke-width="1" stroke-linejoin="round"/>
<line x1="473.0" y1="979.2" x2="473.0" y2="999.0" stroke="#000" stroke-width="2.0" stroke-linecap="butt"/>
<line x1="476.8" y1="981.3" x2="476.8" y2="994.7" stroke="#000" stroke-width="2.0" stroke-linecap="butt"/>
<line x1="483.9" y1="987.1" x2="483.9" y2="1012.0" stroke="#000" stroke-width="2.0" stroke-linecap="butt"/>
<line x1="471.3" y1="969.6" x2="471.3" y2="990.0" stroke="#000" stroke-width="2.3" stroke-linecap="butt"/>
<line x1="485.5" y1="981.6" x2="492.6" y2="981.6" stroke="#000" stroke-width="2.3" stroke-linecap="butt"/>
<polygon points="492.7,981.4 498.6,985.9 506.8,993.2 515.0,1001.3 519.5,1005.9 525.9,1015.0 532.2,1022.2 537.7,1029.5 542.2,1043.1 545.8,1061.3 547.6,1079.4 548.4,1102.1 548.2,1122.1 546.8,1122.1 546.5,1100.0 544.8,1082.0 542.0,1068.0 539.0,1050.0 535.5,1036.0 531.0,1031.0 527.0,1031.0 523.1,1029.5 518.6,1024.0 512.2,1018.6 503.2,1008.6 495.9,1001.3 492.3,997.7" fill="#000" stroke="#000" stroke-width="1" stroke-linejoin="round"/>
<polygon points="538.0,1045.0 541.0,1062.0 543.6,1080.0 541.5,1080.0 539.5,1065.0 537.0,1052.0" fill="#000" stroke="#000" stroke-width="1" stroke-linejoin="round"/>
<polyline points="529.8,1024.0 531.8,1093.0" fill="none" stroke="#000" stroke-width="2.2" stroke-linejoin="round"/>
<polyline points="535.5,1030.0 536.8,1100.3" fill="none" stroke="#000" stroke-width="2.6" stroke-linejoin="round"/>
<polyline points="527.7,1040.0 527.7,1074.0" fill="none" stroke="#000" stroke-width="2.6" stroke-linejoin="round"/>
<line x1="494.5" y1="992.8" x2="494.5" y2="1015.0" stroke="#000" stroke-width="2.0" stroke-linecap="butt"/>
<line x1="500.0" y1="997.1" x2="500.0" y2="1010.4" stroke="#000" stroke-width="2.0" stroke-linecap="butt"/>
<line x1="505.9" y1="1002.4" x2="505.9" y2="1025.0" stroke="#000" stroke-width="2.0" stroke-linecap="butt"/>
<line x1="514.1" y1="1010.4" x2="514.1" y2="1044.9" stroke="#000" stroke-width="3" stroke-linecap="butt"/>
<line x1="517.2" y1="1013.5" x2="517.2" y2="1040.4" stroke="#000" stroke-width="2.0" stroke-linecap="butt"/>
<line x1="521.3" y1="1018.5" x2="521.3" y2="1030.4" stroke="#000" stroke-width="2.0" stroke-linecap="butt"/>
<line x1="510.0" y1="1006.4" x2="510.0" y2="1016.0" stroke="#000" stroke-width="2.0" stroke-linecap="butt"/>
<line x1="524.5" y1="1023.0" x2="524.5" y2="1034.0" stroke="#000" stroke-width="2.0" stroke-linecap="butt"/>
<line x1="492.3" y1="981.4" x2="492.3" y2="998.0" stroke="#000" stroke-width="2.3" stroke-linecap="butt"/>
<line x1="547.6" y1="964.0" x2="547.6" y2="980.5" stroke="#000" stroke-width="2.3" stroke-linecap="butt"/>
<polyline points="548.7,979.4 553.6,1069.8" fill="none" stroke="#000" stroke-width="2.2" stroke-linejoin="round"/>
<polygon points="548.0,965.0 550.9,965.3 555.2,966.3 560.0,970.0 568.3,976.1 571.6,981.0 572.0,982.0 575.0,1016.0 577.8,1048.2 580.7,1085.0 583.0,1119.5 584.2,1160.0 583.6,1182.0 582.4,1182.0 581.3,1131.0 576.7,1073.5 575.0,1052.8 571.5,1027.5 568.3,1000.0 562.0,995.0 555.2,990.0 550.0,983.0" fill="#000" stroke="#000" stroke-width="1" stroke-linejoin="round"/>
<line x1="557.4" y1="976.0" x2="557.4" y2="993.6" stroke="#000" stroke-width="2.0" stroke-linecap="butt"/>
<line x1="562.3" y1="979.7" x2="562.3" y2="1003.4" stroke="#000" stroke-width="2.0" stroke-linecap="butt"/>
<line x1="566.9" y1="983.1" x2="566.9" y2="1017.2" stroke="#000" stroke-width="2.0" stroke-linecap="butt"/>
<polyline points="577.8,1054.5 585.3,1054.5 585.3,1092.0" fill="none" stroke="#000" stroke-width="2.3" stroke-linejoin="round"/>
<line x1="571.5" y1="982.7" x2="585.9" y2="982.7" stroke="#000" stroke-width="2.3" stroke-linecap="butt"/>
<line x1="585.9" y1="982.7" x2="585.9" y2="1016.0" stroke="#000" stroke-width="2.3" stroke-linecap="butt"/>
<polygon points="585.9,983.2 592.0,988.0 596.8,993.6 597.5,995.0 600.3,1008.0 603.7,1025.2 606.0,1044.8 607.2,1070.0 607.2,1100.0 605.5,1113.8 604.0,1113.8 601.4,1050.5 599.1,1027.5 595.7,1010.3 590.0,1005.0 586.0,1003.0" fill="#000" stroke="#000" stroke-width="1" stroke-linejoin="round"/>
<line x1="586.8" y1="995.0" x2="586.8" y2="1016.4" stroke="#000" stroke-width="2.0" stroke-linecap="butt"/>
<line x1="593.3" y1="995.0" x2="593.3" y2="1012.6" stroke="#000" stroke-width="2.0" stroke-linecap="butt"/>
<line x1="600.8" y1="1012.0" x2="606.6" y2="1012.0" stroke="#000" stroke-width="2.3" stroke-linecap="butt"/>
<line x1="596.8" y1="996.0" x2="607.2" y2="996.0" stroke="#000" stroke-width="2.3" stroke-linecap="butt"/>
<line x1="607.2" y1="997.6" x2="607.2" y2="1048.2" stroke="#000" stroke-width="2.3" stroke-linecap="butt"/>
<polygon points="607.2,997.6 615.2,1004.5 619.8,1009.1 631.3,1026.4 640.5,1044.8 641.5,1047.0 644.0,1059.7 647.4,1085.0 650.0,1120.0 650.9,1151.8 649.5,1151.8 645.0,1110.0 642.8,1121.8 640.5,1067.8 634.8,1073.5 629.0,1050.5 622.1,1034.4 617.5,1027.5 608.3,1018.3" fill="#000" stroke="#000" stroke-width="1" stroke-linejoin="round"/>
<line x1="611.2" y1="1011.0" x2="611.2" y2="1024.0" stroke="#000" stroke-width="2.0" stroke-linecap="butt"/>
<line x1="618.1" y1="1017.4" x2="618.1" y2="1050.5" stroke="#000" stroke-width="2.0" stroke-linecap="butt"/>
<line x1="622.7" y1="1023.5" x2="622.7" y2="1040.2" stroke="#000" stroke-width="2.0" stroke-linecap="butt"/>
<line x1="629.0" y1="1032.9" x2="629.0" y2="1055.1" stroke="#000" stroke-width="2.0" stroke-linecap="butt"/>
<line x1="635.9" y1="1045.6" x2="635.9" y2="1077.0" stroke="#000" stroke-width="2.0" stroke-linecap="butt"/>
<line x1="642.8" y1="1057.0" x2="642.8" y2="1121.8" stroke="#000" stroke-width="2.0" stroke-linecap="butt"/>
<line x1="645.1" y1="1061.5" x2="650.3" y2="1061.5" stroke="#000" stroke-width="2.3" stroke-linecap="butt"/>
<line x1="640.5" y1="1048.2" x2="651.5" y2="1048.2" stroke="#000" stroke-width="2.3" stroke-linecap="butt"/>
<line x1="651.5" y1="1048.2" x2="651.5" y2="1152.0" stroke="#000" stroke-width="2.3" stroke-linecap="butt"/>
<polygon points="651.5,1049.0 657.8,1073.5 663.0,1111.4 662.4,1156.4 661.0,1156.4 656.6,1108.0 652.0,1079.3" fill="#000" stroke="#000" stroke-width="1" stroke-linejoin="round"/>
<line x1="663.3" y1="902.7" x2="717.6" y2="902.7" stroke="#000" stroke-width="2.3" stroke-linecap="butt"/>
<polygon points="662.2,901.0 666.0,903.0 671.9,910.3 676.2,911.2 676.2,944.2 670.2,940.8 666.8,935.7 663.5,920.5 662.2,919.6" fill="#000" stroke="#000" stroke-width="1" stroke-linejoin="round"/>
<line x1="663.0" y1="902.7" x2="663.0" y2="919.6" stroke="#000" stroke-width="2.6" stroke-linecap="butt"/>
<line x1="667.7" y1="915.0" x2="667.7" y2="935.7" stroke="#000" stroke-width="2.0" stroke-linecap="butt"/>
<line x1="668.0" y1="915.0" x2="668.0" y2="936.0" stroke="#000" stroke-width="2.0" stroke-linecap="butt"/>
<polyline points="674.5,935.0 676.6,986.0" fill="none" stroke="#000" stroke-width="2.4" stroke-linejoin="round"/>
<polyline points="671.0,930.0 676.8,986.8" fill="none" stroke="#000" stroke-width="2.0" stroke-linejoin="round"/>
<polygon points="673.6,913.5 675.6,913.5 676,938 675.2,945 674.2,938" fill="#fff"/>
<polygon points="676.2,911.2 680.4,914.5 684.6,923.9 687.2,926.4 688.0,927.5 690.5,945.0 696.5,966.2 700.7,987.3 703.2,1010.0 706.9,1041.8 709.6,1097.5 712.4,1167.0 713.4,1221.6 712.2,1221.6 711.0,1167.0 704.8,1097.5 701.3,1041.8 701.3,1013.9 693.9,1010.0 692.2,998.3 690.5,968.7 686.3,957.7 677.8,939.1 676.2,925.0" fill="#000" stroke="#000" stroke-width="1" stroke-linejoin="round"/>
<line x1="695.7" y1="995.0" x2="695.7" y2="1061.3" stroke="#000" stroke-width="2.0" stroke-linecap="butt"/>
<line x1="699.2" y1="995.0" x2="699.2" y2="1036.2" stroke="#000" stroke-width="2.0" stroke-linecap="butt"/>
<line x1="703.4" y1="995.0" x2="703.4" y2="1096.1" stroke="#000" stroke-width="2.0" stroke-linecap="butt"/>
<line x1="691.4" y1="995.0" x2="691.4" y2="998.3" stroke="#000" stroke-width="2.0" stroke-linecap="butt"/>
<line x1="687.2" y1="928.0" x2="713.4" y2="928.0" stroke="#000" stroke-width="2.3" stroke-linecap="butt"/>
<polyline points="713.4,928.0 713.8,963.6 715.9,990.0 716.6,1014.0" fill="none" stroke="#000" stroke-width="2.3" stroke-linejoin="round"/>
<polygon points="716.4,903.2 722.7,904.6 739.6,908.8 749.8,911.0 752.0,912.0 754.9,919.6 757.4,928.1 759.1,940.8 759.3,974.0 757.8,974.0 756.6,949.2 751.5,952.6 748.1,930.6 739.6,926.4 731.2,923.9 722.7,922.2 717.6,919.6 716.4,919.6" fill="#000" stroke="#000" stroke-width="1" stroke-linejoin="round"/>
<line x1="716.6" y1="902.7" x2="716.6" y2="919.6" stroke="#000" stroke-width="2.3" stroke-linecap="butt"/>
<line x1="724.4" y1="915.0" x2="724.4" y2="961.9" stroke="#000" stroke-width="2.0" stroke-linecap="butt"/>
<line x1="727.8" y1="915.9" x2="727.8" y2="934.0" stroke="#000" stroke-width="2.0" stroke-linecap="butt"/>
<line x1="734.5" y1="917.5" x2="734.5" y2="929.8" stroke="#000" stroke-width="2.0" stroke-linecap="butt"/>
<line x1="738.4" y1="918.5" x2="738.4" y2="932.3" stroke="#000" stroke-width="2.0" stroke-linecap="butt"/>
<line x1="751.7" y1="921.9" x2="751.7" y2="953.8" stroke="#000" stroke-width="2.0" stroke-linecap="butt"/>
<line x1="749.8" y1="912.0" x2="759.1" y2="912.0" stroke="#000" stroke-width="2.3" stroke-linecap="butt"/>
<line x1="746.8" y1="925.9" x2="746.8" y2="939.8" stroke="#000" stroke-width="1.5820979260863615" stroke-linecap="butt"/>
<line x1="727.2" y1="919.1" x2="727.2" y2="931.5" stroke="#000" stroke-width="1.4133786077050978" stroke-linecap="butt"/>
<line x1="722.2" y1="918.0" x2="722.2" y2="932.0" stroke="#000" stroke-width="1.924263088425975" stroke-linecap="butt"/>
<line x1="727.2" y1="919.1" x2="727.2" y2="930.9" stroke="#000" stroke-width="1.865216292482107" stroke-linecap="butt"/>
<line x1="729.1" y1="919.5" x2="729.1" y2="928.4" stroke="#000" stroke-width="1.9026506084150854" stroke-linecap="butt"/>
<line x1="729.7" y1="919.6" x2="729.7" y2="929.8" stroke="#000" stroke-width="1.6066754815665176" stroke-linecap="butt"/>
<line x1="722.6" y1="918.1" x2="722.6" y2="929.3" stroke="#000" stroke-width="1.8782188819980652" stroke-linecap="butt"/>
<line x1="741.9" y1="923.5" x2="741.9" y2="937.0" stroke="#000" stroke-width="1.7318349083773477" stroke-linecap="butt"/>
<line x1="745.6" y1="925.4" x2="745.6" y2="934.5" stroke="#000" stroke-width="1.5599706042613826" stroke-linecap="butt"/>
<line x1="743.1" y1="924.1" x2="743.1" y2="930.5" stroke="#000" stroke-width="2.0444377052145803" stroke-linecap="butt"/>
<line x1="734.0" y1="920.7" x2="734.0" y2="932.4" stroke="#000" stroke-width="2.197056878498686" stroke-linecap="butt"/>
<line x1="722.6" y1="918.1" x2="722.6" y2="938.1" stroke="#000" stroke-width="1.5160738197694223" stroke-linecap="butt"/>
<polygon points="759.1,911.2 775.0,915.4 798.2,922.6 826.4,931.0 849.0,938.1 860.3,943.7 868.7,949.4 882.8,957.8 904.0,969.1 920.9,979.0 932.2,986.0 942.1,994.5 949.1,1005.8 953.4,1020.0 955.5,1035.0 957.0,1060.0 957.0,1090.0 955.8,1090.0 952.3,1052.8 944.6,1035.0 939.3,1020.0 932.2,1007.2 922.3,998.7 911.0,990.3 896.9,983.2 882.8,974.8 868.7,966.3 861.7,962.1 854.6,956.4 840.5,950.8 826.4,946.5 812.3,942.3 798.2,938.1 784.1,933.9 770.0,931.0 759.9,936.5" fill="#000" stroke="#000" stroke-width="1" stroke-linejoin="round"/>
<line x1="759.3" y1="911.2" x2="759.3" y2="936.5" stroke="#000" stroke-width="2.3" stroke-linecap="butt"/>
<line x1="774.9" y1="927.4" x2="774.9" y2="960.6" stroke="#000" stroke-width="2.0" stroke-linecap="butt"/>
<line x1="779.2" y1="928.7" x2="779.2" y2="938.0" stroke="#000" stroke-width="2.0" stroke-linecap="butt"/>
<line x1="790.5" y1="932.2" x2="790.5" y2="943.0" stroke="#000" stroke-width="2.0" stroke-linecap="butt"/>
<line x1="796.8" y1="934.2" x2="796.8" y2="943.7" stroke="#000" stroke-width="2.0" stroke-linecap="butt"/>
<line x1="834.9" y1="945.7" x2="834.9" y2="983.2" stroke="#000" stroke-width="2.0" stroke-linecap="butt"/>
<line x1="876.5" y1="966.0" x2="876.5" y2="993.1" stroke="#000" stroke-width="2.0" stroke-linecap="butt"/>
<line x1="883.5" y1="970.2" x2="883.5" y2="983.2" stroke="#000" stroke-width="2.0" stroke-linecap="butt"/>
<line x1="892.0" y1="974.7" x2="892.0" y2="988.9" stroke="#000" stroke-width="2.0" stroke-linecap="butt"/>
<line x1="898.3" y1="978.1" x2="898.3" y2="1007.2" stroke="#000" stroke-width="2.0" stroke-linecap="butt"/>
<line x1="909.6" y1="984.4" x2="909.6" y2="1003.7" stroke="#000" stroke-width="2.0" stroke-linecap="butt"/>
<line x1="912.0" y1="985.8" x2="912.0" y2="1002.0" stroke="#000" stroke-width="2.0" stroke-linecap="butt"/>
<line x1="918.1" y1="989.4" x2="918.1" y2="1008.6" stroke="#000" stroke-width="2.0" stroke-linecap="butt"/>
<line x1="920.0" y1="990.5" x2="920.0" y2="1007.1" stroke="#000" stroke-width="2.0" stroke-linecap="butt"/>
<line x1="925.1" y1="993.6" x2="925.1" y2="1015.7" stroke="#000" stroke-width="2.0" stroke-linecap="butt"/>
<line x1="929.4" y1="996.3" x2="929.4" y2="1026.1" stroke="#000" stroke-width="2.0" stroke-linecap="butt"/>
<line x1="939.6" y1="1004.4" x2="939.6" y2="1037.6" stroke="#000" stroke-width="2.0" stroke-linecap="butt"/>
<line x1="941.8" y1="1006.2" x2="941.8" y2="1037.3" stroke="#000" stroke-width="2.0" stroke-linecap="butt"/>
<line x1="947.3" y1="1014.9" x2="947.3" y2="1030.0" stroke="#000" stroke-width="2.0" stroke-linecap="butt"/>
<line x1="951.9" y1="1027.0" x2="951.9" y2="1050.2" stroke="#000" stroke-width="2.0" stroke-linecap="butt"/>
<polyline points="827.1,932.4 827.4,980.0 828.0,1027.4" fill="none" stroke="#000" stroke-width="2.0" stroke-linejoin="round"/>
<line x1="927.0" y1="992.8" x2="927.0" y2="1020.0" stroke="#000" stroke-width="1.8" stroke-linecap="butt"/>
<line x1="932.0" y1="995.9" x2="932.0" y2="1030.0" stroke="#000" stroke-width="1.8" stroke-linecap="butt"/>
<line x1="934.5" y1="998.0" x2="934.5" y2="1025.0" stroke="#000" stroke-width="1.8" stroke-linecap="butt"/>
<line x1="938.0" y1="1001.0" x2="938.0" y2="1035.0" stroke="#000" stroke-width="1.8" stroke-linecap="butt"/>
<line x1="941.0" y1="1003.6" x2="941.0" y2="1030.0" stroke="#000" stroke-width="1.8" stroke-linecap="butt"/>
<line x1="944.5" y1="1008.4" x2="944.5" y2="1040.0" stroke="#000" stroke-width="1.8" stroke-linecap="butt"/>
<line x1="949.0" y1="1015.6" x2="949.0" y2="1045.0" stroke="#000" stroke-width="1.8" stroke-linecap="butt"/>
<line x1="936.7" y1="999.9" x2="936.7" y2="1032.6" stroke="#000" stroke-width="1.8" stroke-linecap="butt"/>
<line x1="943.0" y1="1006.0" x2="943.0" y2="1027.3" stroke="#000" stroke-width="1.8" stroke-linecap="butt"/>
<line x1="860.3" y1="946.8" x2="958.3" y2="946.8" stroke="#000" stroke-width="2.3" stroke-linecap="butt"/>
<line x1="860.3" y1="946.3" x2="926.0" y2="946.3" stroke="#000" stroke-width="3.6" stroke-linecap="butt"/>
<line x1="916.5" y1="990.4" x2="916.5" y2="999.6" stroke="#000" stroke-width="2.161269992601776" stroke-linecap="butt"/>
<line x1="817.0" y1="939.7" x2="817.0" y2="952.6" stroke="#000" stroke-width="1.5310308387864406" stroke-linecap="butt"/>
<line x1="823.3" y1="941.6" x2="823.3" y2="954.3" stroke="#000" stroke-width="1.9274027251959385" stroke-linecap="butt"/>
<line x1="823.8" y1="941.7" x2="823.8" y2="949.3" stroke="#000" stroke-width="1.7091699530491888" stroke-linecap="butt"/>
<line x1="843.0" y1="947.8" x2="843.0" y2="961.7" stroke="#000" stroke-width="1.5817984682741568" stroke-linecap="butt"/>
<line x1="935.9" y1="1009.8" x2="935.9" y2="1021.3" stroke="#000" stroke-width="2.053407865701881" stroke-linecap="butt"/>
<line x1="854.5" y1="952.4" x2="854.5" y2="960.6" stroke="#000" stroke-width="2.199314384605283" stroke-linecap="butt"/>
<line x1="872.0" y1="964.3" x2="872.0" y2="971.3" stroke="#000" stroke-width="2.0122241894753286" stroke-linecap="butt"/>
<line x1="916.8" y1="990.6" x2="916.8" y2="1005.4" stroke="#000" stroke-width="1.9889453883912802" stroke-linecap="butt"/>
<line x1="831.1" y1="943.9" x2="831.1" y2="954.7" stroke="#000" stroke-width="2.0083277739918524" stroke-linecap="butt"/>
<line x1="872.2" y1="964.4" x2="872.2" y2="977.9" stroke="#000" stroke-width="1.8720423656023395" stroke-linecap="butt"/>
<line x1="931.6" y1="1002.7" x2="931.6" y2="1015.8" stroke="#000" stroke-width="1.9590082162822653" stroke-linecap="butt"/>
<line x1="783.9" y1="929.9" x2="783.9" y2="939.6" stroke="#000" stroke-width="1.6100967858159143" stroke-linecap="butt"/>
<line x1="784.4" y1="930.0" x2="784.4" y2="937.0" stroke="#000" stroke-width="2.0262973629877803" stroke-linecap="butt"/>
<line x1="914.7" y1="989.0" x2="914.7" y2="1003.7" stroke="#000" stroke-width="1.411528310464992" stroke-linecap="butt"/>
<line x1="795.7" y1="933.3" x2="795.7" y2="939.9" stroke="#000" stroke-width="1.655891875975666" stroke-linecap="butt"/>
<line x1="889.4" y1="974.7" x2="889.4" y2="984.8" stroke="#000" stroke-width="2.081321824592017" stroke-linecap="butt"/>
<line x1="877.7" y1="967.7" x2="877.7" y2="974.4" stroke="#000" stroke-width="1.6845059905728896" stroke-linecap="butt"/>
<line x1="933.9" y1="1006.2" x2="933.9" y2="1014.6" stroke="#000" stroke-width="2.137963040854848" stroke-linecap="butt"/>
<line x1="834.9" y1="945.1" x2="834.9" y2="951.8" stroke="#000" stroke-width="2.135270268372492" stroke-linecap="butt"/>
<line x1="848.6" y1="950.0" x2="848.6" y2="957.5" stroke="#000" stroke-width="1.671949118894849" stroke-linecap="butt"/>
<line x1="805.2" y1="936.2" x2="805.2" y2="942.6" stroke="#000" stroke-width="1.5882442578730886" stroke-linecap="butt"/>
<line x1="783.2" y1="929.7" x2="783.2" y2="939.0" stroke="#000" stroke-width="2.197591737022351" stroke-linecap="butt"/>
<line x1="799.2" y1="934.4" x2="799.2" y2="945.9" stroke="#000" stroke-width="2.089464086997647" stroke-linecap="butt"/>
<line x1="847.8" y1="949.7" x2="847.8" y2="961.8" stroke="#000" stroke-width="1.8278943353233978" stroke-linecap="butt"/>
<line x1="844.9" y1="948.5" x2="844.9" y2="954.6" stroke="#000" stroke-width="1.9538836606936807" stroke-linecap="butt"/>
<line x1="895.9" y1="978.6" x2="895.9" y2="1003.3" stroke="#000" stroke-width="2.0792567900965535" stroke-linecap="butt"/>
<line x1="912.7" y1="987.5" x2="912.7" y2="1000.3" stroke="#000" stroke-width="1.6796427449484561" stroke-linecap="butt"/>
<line x1="825.7" y1="942.3" x2="825.7" y2="950.0" stroke="#000" stroke-width="1.6712543347224778" stroke-linecap="butt"/>
<line x1="904.5" y1="983.0" x2="904.5" y2="991.1" stroke="#000" stroke-width="1.4685352492822887" stroke-linecap="butt"/>
<line x1="811.3" y1="938.0" x2="811.3" y2="951.0" stroke="#000" stroke-width="2.133580845364274" stroke-linecap="butt"/>
<line x1="768.2" y1="928.0" x2="768.2" y2="940.2" stroke="#000" stroke-width="1.679670529014701" stroke-linecap="butt"/>
<line x1="927.5" y1="999.1" x2="927.5" y2="1011.3" stroke="#000" stroke-width="2.0645785312423506" stroke-linecap="butt"/>
<line x1="839.9" y1="946.6" x2="839.9" y2="956.8" stroke="#000" stroke-width="1.7800764680040617" stroke-linecap="butt"/>
<line x1="766.5" y1="928.9" x2="766.5" y2="942.3" stroke="#000" stroke-width="1.7600180371290228" stroke-linecap="butt"/>
<line x1="793.0" y1="932.6" x2="793.0" y2="947.9" stroke="#000" stroke-width="1.5683422230376574" stroke-linecap="butt"/>
<line x1="916.7" y1="990.5" x2="916.7" y2="1002.7" stroke="#000" stroke-width="1.473582175647466" stroke-linecap="butt"/>
<line x1="841.4" y1="947.2" x2="841.4" y2="959.8" stroke="#000" stroke-width="1.7597830385488398" stroke-linecap="butt"/>
<line x1="775.5" y1="928.1" x2="775.5" y2="937.6" stroke="#000" stroke-width="2.11224819860346" stroke-linecap="butt"/>
<line x1="870.1" y1="963.1" x2="870.1" y2="972.3" stroke="#000" stroke-width="1.860268924699453" stroke-linecap="butt"/>
<line x1="843.3" y1="947.9" x2="843.3" y2="961.6" stroke="#000" stroke-width="1.4772464627307471" stroke-linecap="butt"/>
<line x1="890.9" y1="975.6" x2="890.9" y2="987.9" stroke="#000" stroke-width="1.81960271920037" stroke-linecap="butt"/>
<line x1="934.1" y1="1006.7" x2="934.1" y2="1018.5" stroke="#000" stroke-width="1.7824312239403228" stroke-linecap="butt"/>
<line x1="836.8" y1="945.7" x2="836.8" y2="960.5" stroke="#000" stroke-width="1.7711852986675733" stroke-linecap="butt"/>
<line x1="778.7" y1="928.8" x2="778.7" y2="939.4" stroke="#000" stroke-width="1.9529097195684735" stroke-linecap="butt"/>
<line x1="934.1" y1="1006.6" x2="934.1" y2="1015.0" stroke="#000" stroke-width="1.6867491382020234" stroke-linecap="butt"/>
<line x1="820.9" y1="940.9" x2="820.9" y2="955.1" stroke="#000" stroke-width="1.7775299206726078" stroke-linecap="butt"/>
<line x1="937.9" y1="1013.4" x2="937.9" y2="1023.1" stroke="#000" stroke-width="1.7349836321136656" stroke-linecap="butt"/>
<line x1="818.8" y1="940.2" x2="818.8" y2="949.1" stroke="#000" stroke-width="1.4117772474858534" stroke-linecap="butt"/>
<line x1="773.7" y1="927.8" x2="773.7" y2="941.0" stroke="#000" stroke-width="1.739596851947356" stroke-linecap="butt"/>
<line x1="846.5" y1="949.2" x2="846.5" y2="959.4" stroke="#000" stroke-width="1.7469311341132046" stroke-linecap="butt"/>
<line x1="824.7" y1="942.0" x2="824.7" y2="953.3" stroke="#000" stroke-width="1.8710324160995897" stroke-linecap="butt"/>
<line x1="769.2" y1="927.4" x2="769.2" y2="948.6" stroke="#000" stroke-width="1.7009623377091003" stroke-linecap="butt"/>
<line x1="784.8" y1="930.1" x2="784.8" y2="944.9" stroke="#000" stroke-width="1.5485700742891662" stroke-linecap="butt"/>
<line x1="819.7" y1="940.5" x2="819.7" y2="948.2" stroke="#000" stroke-width="2.198775173323427" stroke-linecap="butt"/>
<line x1="957.6" y1="946.8" x2="957.6" y2="995.5" stroke="#000" stroke-width="2.3" stroke-linecap="butt"/>
<polygon points="958.3,945.4 970.0,949.4 995.0,958.5 1050.0,979.6 1105.0,1004.3 1138.0,1019.9 1141.0,1022.0 1145.4,1039.2 1149.0,1048.3 1150.5,1070.0 1150.0,1096.5 1148.8,1096.5 1146.3,1081.3 1144.4,1063.0 1141.7,1048.3 1134.3,1033.7 1128.9,1031.8 1105.0,1020.0 1050.0,997.0 995.0,975.0 970.0,964.9 959.0,962.1" fill="#000" stroke="#000" stroke-width="1" stroke-linejoin="round"/>
<line x1="970.3" y1="963.5" x2="970.3" y2="972.3" stroke="#000" stroke-width="2.0" stroke-linecap="butt"/>
<line x1="1037.2" y1="988.7" x2="1037.2" y2="993.3" stroke="#000" stroke-width="2.0" stroke-linecap="butt"/>
<line x1="1058.3" y1="997.3" x2="1058.3" y2="1008.9" stroke="#000" stroke-width="2.0" stroke-linecap="butt"/>
<line x1="1065.6" y1="1000.6" x2="1065.6" y2="1006.2" stroke="#000" stroke-width="2.0" stroke-linecap="butt"/>
<line x1="1070.0" y1="1002.6" x2="1070.0" y2="1008.0" stroke="#000" stroke-width="2.0" stroke-linecap="butt"/>
<line x1="1080.3" y1="1007.2" x2="1080.3" y2="1019.9" stroke="#000" stroke-width="2.0" stroke-linecap="butt"/>
<line x1="1086.7" y1="1010.1" x2="1086.7" y2="1024.5" stroke="#000" stroke-width="2.0" stroke-linecap="butt"/>
<line x1="1109.6" y1="1020.5" x2="1109.6" y2="1023.6" stroke="#000" stroke-width="2.0" stroke-linecap="butt"/>
<line x1="1132.5" y1="1031.3" x2="1132.5" y2="1061.2" stroke="#000" stroke-width="2.0" stroke-linecap="butt"/>
<line x1="1140.8" y1="1023.2" x2="1150.0" y2="1023.2" stroke="#000" stroke-width="2.3" stroke-linecap="butt"/>
<line x1="1080.8" y1="1005.9" x2="1080.8" y2="1032.8" stroke="#000" stroke-width="2.0568027822739032" stroke-linecap="butt"/>
<line x1="969.6" y1="960.8" x2="969.6" y2="969.8" stroke="#000" stroke-width="1.5501664090735605" stroke-linecap="butt"/>
<line x1="1125.1" y1="1025.9" x2="1125.1" y2="1032.8" stroke="#000" stroke-width="1.9230077700786339" stroke-linecap="butt"/>
<line x1="1077.3" y1="1004.4" x2="1077.3" y2="1013.2" stroke="#000" stroke-width="1.787202183296579" stroke-linecap="butt"/>
<line x1="983.4" y1="966.3" x2="983.4" y2="972.7" stroke="#000" stroke-width="1.4596094983100905" stroke-linecap="butt"/>
<line x1="1019.3" y1="980.7" x2="1019.3" y2="989.8" stroke="#000" stroke-width="1.7467534547171444" stroke-linecap="butt"/>
<line x1="966.4" y1="960.0" x2="966.4" y2="968.7" stroke="#000" stroke-width="1.5454218613479098" stroke-linecap="butt"/>
<line x1="1086.7" y1="1008.3" x2="1086.7" y2="1015.6" stroke="#000" stroke-width="1.8873611107564523" stroke-linecap="butt"/>
<line x1="1044.4" y1="990.8" x2="1044.4" y2="997.9" stroke="#000" stroke-width="1.513748684472064" stroke-linecap="butt"/>
<line x1="994.7" y1="970.9" x2="994.7" y2="977.1" stroke="#000" stroke-width="2.1134511801829077" stroke-linecap="butt"/>
<line x1="996.3" y1="971.5" x2="996.3" y2="977.2" stroke="#000" stroke-width="1.5055127834726556" stroke-linecap="butt"/>
<line x1="1100.9" y1="1014.3" x2="1100.9" y2="1024.1" stroke="#000" stroke-width="2.1628083607991595" stroke-linecap="butt"/>
<line x1="1053.5" y1="994.5" x2="1053.5" y2="1001.7" stroke="#000" stroke-width="1.922062995560226" stroke-linecap="butt"/>
<line x1="1000.7" y1="973.3" x2="1000.7" y2="980.9" stroke="#000" stroke-width="1.9347043954524572" stroke-linecap="butt"/>
<line x1="1108.2" y1="1017.6" x2="1108.2" y2="1025.8" stroke="#000" stroke-width="1.874779135193354" stroke-linecap="butt"/>
<line x1="1084.3" y1="1007.4" x2="1084.3" y2="1015.0" stroke="#000" stroke-width="1.4752874241344383" stroke-linecap="butt"/>
<polygon points="1150.0,1022.7 1160.6,1028.3 1169.2,1033.5 1179.6,1040.3 1206.4,1059.4 1220.5,1068.5 1241.7,1086.9 1268.5,1110.0 1293.9,1142.2 1310.8,1162.5 1320.0,1180.0 1329.0,1196.0 1342.8,1226.5 1354.4,1261.3 1363.1,1296.2 1368.9,1339.7 1370.6,1383.3 1370.8,1406.5 1369.2,1406.5 1368.2,1383.3 1364.6,1339.7 1360.2,1310.7 1352.9,1284.6 1345.7,1261.3 1337.0,1235.2 1328.3,1217.8 1318.1,1194.5 1307.9,1180.0 1292.2,1155.7 1268.5,1128.6 1241.7,1101.7 1220.5,1084.8 1205.0,1073.5 1179.6,1058.0 1160.6,1045.3 1150.0,1039.6" fill="#000" stroke="#000" stroke-width="1" stroke-linejoin="round"/>
<line x1="1204.2" y1="1071.8" x2="1204.2" y2="1089.7" stroke="#000" stroke-width="2.0" stroke-linecap="butt"/>
<line x1="1208.4" y1="1074.7" x2="1208.4" y2="1109.2" stroke="#000" stroke-width="2.0" stroke-linecap="butt"/>
<line x1="1224.5" y1="1086.0" x2="1224.5" y2="1103.3" stroke="#000" stroke-width="2.0" stroke-linecap="butt"/>
<line x1="1240.6" y1="1099.9" x2="1240.6" y2="1112.6" stroke="#000" stroke-width="2.0" stroke-linecap="butt"/>
<line x1="1247.0" y1="1105.5" x2="1247.0" y2="1113.0" stroke="#000" stroke-width="2.0" stroke-linecap="butt"/>
<line x1="1250.7" y1="1108.7" x2="1250.7" y2="1118.5" stroke="#000" stroke-width="2.0" stroke-linecap="butt"/>
<line x1="1255.8" y1="1113.1" x2="1255.8" y2="1125.3" stroke="#000" stroke-width="2.0" stroke-linecap="butt"/>
<line x1="1266.8" y1="1122.5" x2="1266.8" y2="1143.0" stroke="#000" stroke-width="2.0" stroke-linecap="butt"/>
<line x1="1270.0" y1="1125.9" x2="1270.0" y2="1143.0" stroke="#000" stroke-width="2.0" stroke-linecap="butt"/>
<line x1="1292.2" y1="1154.0" x2="1292.2" y2="1175.2" stroke="#000" stroke-width="2.0" stroke-linecap="butt"/>
<line x1="1297.0" y1="1159.9" x2="1297.0" y2="1173.0" stroke="#000" stroke-width="2.0" stroke-linecap="butt"/>
<line x1="1300.6" y1="1164.2" x2="1300.6" y2="1173.0" stroke="#000" stroke-width="2.0" stroke-linecap="butt"/>
<line x1="1305.7" y1="1170.4" x2="1305.7" y2="1182.0" stroke="#000" stroke-width="2.0" stroke-linecap="butt"/>
<line x1="1313.3" y1="1181.3" x2="1313.3" y2="1193.0" stroke="#000" stroke-width="2.0" stroke-linecap="butt"/>
<line x1="1317.6" y1="1189.4" x2="1317.6" y2="1201.4" stroke="#000" stroke-width="2.0" stroke-linecap="butt"/>
<line x1="1326.9" y1="1206.3" x2="1326.9" y2="1216.7" stroke="#000" stroke-width="2.0" stroke-linecap="butt"/>
<line x1="1332.8" y1="1218.4" x2="1332.8" y2="1228.5" stroke="#000" stroke-width="2.0" stroke-linecap="butt"/>
<line x1="1340.6" y1="1235.6" x2="1340.6" y2="1254.0" stroke="#000" stroke-width="2.0" stroke-linecap="butt"/>
<line x1="1269.1" y1="1125.3" x2="1269.1" y2="1135.3" stroke="#000" stroke-width="1.9262340511398293" stroke-linecap="butt"/>
<line x1="1296.9" y1="1159.0" x2="1296.9" y2="1167.2" stroke="#000" stroke-width="2.1989917549132203" stroke-linecap="butt"/>
<line x1="1329.0" y1="1215.2" x2="1329.0" y2="1223.0" stroke="#000" stroke-width="1.967017392275035" stroke-linecap="butt"/>
<line x1="1347.0" y1="1261.5" x2="1347.0" y2="1269.5" stroke="#000" stroke-width="1.5498291069684327" stroke-linecap="butt"/>
<line x1="1309.6" y1="1178.4" x2="1309.6" y2="1190.9" stroke="#000" stroke-width="1.5116655185470798" stroke-linecap="butt"/>
<line x1="1283.9" y1="1142.2" x2="1283.9" y2="1148.8" stroke="#000" stroke-width="1.7943963181238143" stroke-linecap="butt"/>
<line x1="1258.1" y1="1114.8" x2="1258.1" y2="1122.7" stroke="#000" stroke-width="1.737958421911562" stroke-linecap="butt"/>
<line x1="1341.0" y1="1243.1" x2="1341.0" y2="1250.8" stroke="#000" stroke-width="1.720038866514533" stroke-linecap="butt"/>
<line x1="1274.4" y1="1131.3" x2="1274.4" y2="1139.4" stroke="#000" stroke-width="2.074161341139434" stroke-linecap="butt"/>
<line x1="1326.4" y1="1209.5" x2="1326.4" y2="1221.7" stroke="#000" stroke-width="1.6388910065004711" stroke-linecap="butt"/>
<line x1="1267.6" y1="1123.7" x2="1267.6" y2="1133.7" stroke="#000" stroke-width="2.0278420116791014" stroke-linecap="butt"/>
<line x1="1346.9" y1="1261.3" x2="1346.9" y2="1272.9" stroke="#000" stroke-width="1.9393673850171096" stroke-linecap="butt"/>
<line x1="1320.5" y1="1196.1" x2="1320.5" y2="1207.7" stroke="#000" stroke-width="2.038422504347399" stroke-linecap="butt"/>
<line x1="1343.3" y1="1250.1" x2="1343.3" y2="1259.6" stroke="#000" stroke-width="1.7048274570834896" stroke-linecap="butt"/>
<line x1="1312.3" y1="1182.2" x2="1312.3" y2="1192.2" stroke="#000" stroke-width="1.7114419866419373" stroke-linecap="butt"/>
<line x1="1327.1" y1="1211.1" x2="1327.1" y2="1221.9" stroke="#000" stroke-width="2.1696782246312867" stroke-linecap="butt"/>
<line x1="1241.6" y1="1099.3" x2="1241.6" y2="1108.1" stroke="#000" stroke-width="1.8288351886820915" stroke-linecap="butt"/>
<line x1="1312.9" y1="1183.1" x2="1312.9" y2="1190.9" stroke="#000" stroke-width="2.0887127158107175" stroke-linecap="butt"/>
<line x1="1319.1" y1="1192.8" x2="1319.1" y2="1204.9" stroke="#000" stroke-width="2.1366545707672984" stroke-linecap="butt"/>
<line x1="1342.1" y1="1246.4" x2="1342.1" y2="1258.8" stroke="#000" stroke-width="2.143834450466606" stroke-linecap="butt"/>
<line x1="1288.8" y1="1147.8" x2="1288.8" y2="1156.7" stroke="#000" stroke-width="2.0133508229900703" stroke-linecap="butt"/>
<line x1="1355.4" y1="1289.5" x2="1355.4" y2="1300.2" stroke="#000" stroke-width="1.4654089706609126" stroke-linecap="butt"/>
<line x1="1255.6" y1="1112.4" x2="1255.6" y2="1118.9" stroke="#000" stroke-width="1.4003260188209041" stroke-linecap="butt"/>
<line x1="1287.0" y1="1145.8" x2="1287.0" y2="1153.9" stroke="#000" stroke-width="1.5231331974071076" stroke-linecap="butt"/>
<line x1="1250.9" y1="1108.1" x2="1250.9" y2="1120.4" stroke="#000" stroke-width="1.8097589169433195" stroke-linecap="butt"/>
<line x1="1303.6" y1="1169.4" x2="1303.6" y2="1177.7" stroke="#000" stroke-width="1.6257304807529482" stroke-linecap="butt"/>
<line x1="1252.0" y1="1109.1" x2="1252.0" y2="1121.9" stroke="#000" stroke-width="2.090329769653599" stroke-linecap="butt"/>
<line x1="1257.5" y1="1114.2" x2="1257.5" y2="1138.0" stroke="#000" stroke-width="1.4559354203793027" stroke-linecap="butt"/>
<line x1="1311.9" y1="1181.6" x2="1311.9" y2="1188.7" stroke="#000" stroke-width="2.130026088457075" stroke-linecap="butt"/>
<line x1="1290.2" y1="1149.4" x2="1290.2" y2="1161.9" stroke="#000" stroke-width="1.5421626519516045" stroke-linecap="butt"/>
<line x1="1341.4" y1="1244.5" x2="1341.4" y2="1256.6" stroke="#000" stroke-width="1.935545765492399" stroke-linecap="butt"/>
<line x1="1276.0" y1="1133.2" x2="1276.0" y2="1139.4" stroke="#000" stroke-width="1.508410377315575" stroke-linecap="butt"/>
<line x1="1336.3" y1="1229.8" x2="1336.3" y2="1240.7" stroke="#000" stroke-width="1.7227804996644274" stroke-linecap="butt"/>
<line x1="1247.7" y1="1105.0" x2="1247.7" y2="1113.5" stroke="#000" stroke-width="2.064285874719365" stroke-linecap="butt"/>
<line x1="612.3" y1="1018.3" x2="612.3" y2="1031.6" stroke="#000" stroke-width="1.7080737991826225" stroke-linecap="butt"/>
<line x1="615.9" y1="1021.9" x2="615.9" y2="1039.7" stroke="#000" stroke-width="1.5616085810135751" stroke-linecap="butt"/>
<line x1="630.3" y1="1051.8" x2="630.3" y2="1059.6" stroke="#000" stroke-width="2.1423242185083327" stroke-linecap="butt"/>
<line x1="631.9" y1="1058.1" x2="631.9" y2="1065.0" stroke="#000" stroke-width="2.1908981314893077" stroke-linecap="butt"/>
<line x1="618.8" y1="1025.4" x2="618.8" y2="1037.0" stroke="#000" stroke-width="1.9176777894079604" stroke-linecap="butt"/>
<line x1="610.4" y1="1016.4" x2="610.4" y2="1028.9" stroke="#000" stroke-width="1.7583576204410876" stroke-linecap="butt"/>
<line x1="617.6" y1="1023.7" x2="617.6" y2="1036.2" stroke="#000" stroke-width="2.1540697171519336" stroke-linecap="butt"/>
<line x1="614.0" y1="1020.0" x2="614.0" y2="1032.9" stroke="#000" stroke-width="2.1896410466627136" stroke-linecap="butt"/>
<line x1="633.3" y1="1063.4" x2="633.3" y2="1073.8" stroke="#000" stroke-width="2.107748046897865" stroke-linecap="butt"/>
<line x1="611.8" y1="1017.8" x2="611.8" y2="1027.4" stroke="#000" stroke-width="1.587740759209966" stroke-linecap="butt"/>
<line x1="502.1" y1="1003.5" x2="502.1" y2="1013.6" stroke="#000" stroke-width="1.4812004698971435" stroke-linecap="butt"/>
<line x1="508.6" y1="1010.6" x2="508.6" y2="1025.2" stroke="#000" stroke-width="1.8150982026943208" stroke-linecap="butt"/>
<line x1="516.9" y1="1018.6" x2="516.9" y2="1028.6" stroke="#000" stroke-width="2.0711734155733876" stroke-linecap="butt"/>
<line x1="498.8" y1="1000.2" x2="498.8" y2="1014.2" stroke="#000" stroke-width="1.8384750716634721" stroke-linecap="butt"/>
<line x1="509.0" y1="1011.0" x2="509.0" y2="1017.6" stroke="#000" stroke-width="2.0179672837780567" stroke-linecap="butt"/>
<line x1="515.1" y1="1017.1" x2="515.1" y2="1028.7" stroke="#000" stroke-width="1.979348279118049" stroke-linecap="butt"/>
<line x1="522.7" y1="1025.0" x2="522.7" y2="1038.8" stroke="#000" stroke-width="1.7564682790296564" stroke-linecap="butt"/>
<line x1="506.3" y1="1008.0" x2="506.3" y2="1035.6" stroke="#000" stroke-width="1.717402320399369" stroke-linecap="butt"/>
<line x1="505.3" y1="1006.9" x2="505.3" y2="1017.3" stroke="#000" stroke-width="2.131333769954718" stroke-linecap="butt"/>
<line x1="514.0" y1="1016.1" x2="514.0" y2="1029.2" stroke="#000" stroke-width="1.9189650405545173" stroke-linecap="butt"/>
<g shape-rendering="auto"><rect x="203.60" y="1447.0" width="1.90" height="101.0" fill="#3a20e0"/><rect x="204.90" y="1447.0" width="5.70" height="101.0" fill="#D2B48C"/><rect x="210.00" y="1447.0" width="1.18" height="101.0" fill="#127a8c"/><rect x="210.58" y="1447.0" width="1.78" height="101.0" fill="#0000FF"/><rect x="211.75" y="1447.0" width="1.52" height="101.0" fill="#1a5aa0"/><rect x="212.67" y="1447.0" width="1.67" height="101.0" fill="#127a8c"/><rect x="213.74" y="1447.0" width="1.14" height="101.0" fill="#0000FF"/><rect x="214.28" y="1447.0" width="1.84" height="101.0" fill="#1a5aa0"/><rect x="215.53" y="1447.0" width="1.07" height="101.0" fill="#0000FF"/><rect x="216.00" y="1447.0" width="3.20" height="101.0" fill="#FFFF00"/><rect x="218.60" y="1447.0" width="1.96" height="101.0" fill="#2a3ad8"/><rect x="219.96" y="1447.0" width="1.10" height="101.0" fill="#0000FF"/><rect x="220.46" y="1447.0" width="1.84" height="101.0" fill="#1a5aa0"/><rect x="221.71" y="1447.0" width="1.69" height="101.0" fill="#0000FF"/><rect x="222.79" y="1447.0" width="1.63" height="101.0" fill="#1a5aa0"/><rect x="223.82" y="1447.0" width="1.60" height="101.0" fill="#0000FF"/><rect x="224.82" y="1447.0" width="1.46" height="101.0" fill="#0000FF"/><rect x="225.68" y="1447.0" width="1.74" height="101.0" fill="#2a3ad8"/><rect x="226.82" y="1447.0" width="0.78" height="101.0" fill="#1a5aa0"/><rect x="227.00" y="1447.0" width="5.70" height="101.0" fill="#FFFF00"/><rect x="232.10" y="1447.0" width="1.28" height="101.0" fill="#1a5aa0"/><rect x="232.78" y="1447.0" width="1.40" height="101.0" fill="#1a5aa0"/><rect x="233.58" y="1447.0" width="1.64" height="101.0" fill="#0000FF"/><rect x="234.62" y="1447.0" width="1.06" height="101.0" fill="#127a8c"/><rect x="235.08" y="1447.0" width="1.30" height="101.0" fill="#0000FF"/><rect x="235.78" y="1447.0" width="2.00" height="101.0" fill="#1a5aa0"/><rect x="237.18" y="1447.0" width="1.84" height="101.0" fill="#1a5aa0"/><rect x="238.42" y="1447.0" width="1.66" height="101.0" fill="#0000FF"/><rect x="239.48" y="1447.0" width="1.65" height="101.0" fill="#127a8c"/><rect x="240.53" y="1447.0" width="1.55" height="101.0" fill="#1a5aa0"/><rect x="241.48" y="1447.0" width="1.69" height="101.0" fill="#0000FF"/><rect x="242.57" y="1447.0" width="1.77" height="101.0" fill="#1a5aa0"/><rect x="243.74" y="1447.0" width="1.34" height="101.0" fill="#0000FF"/><rect x="244.47" y="1447.0" width="1.87" height="101.0" fill="#1a5aa0"/><rect x="245.75" y="1447.0" width="1.73" height="101.0" fill="#127a8c"/><rect x="246.88" y="1447.0" width="1.73" height="101.0" fill="#2a3ad8"/><rect x="248.01" y="1447.0" width="1.43" height="101.0" fill="#127a8c"/><rect x="248.83" y="1447.0" width="1.47" height="101.0" fill="#2a3ad8"/><rect x="249.70" y="1447.0" width="1.88" height="101.0" fill="#0000FF"/><rect x="250.99" y="1447.0" width="1.18" height="101.0" fill="#0000FF"/><rect x="251.57" y="1447.0" width="1.97" height="101.0" fill="#1a5aa0"/><rect x="252.94" y="1447.0" width="1.65" height="101.0" fill="#0000FF"/><rect x="253.98" y="1447.0" width="1.53" height="101.0" fill="#0000FF"/><rect x="254.91" y="1447.0" width="1.38" height="101.0" fill="#1a5aa0"/><rect x="255.70" y="1447.0" width="1.61" height="101.0" fill="#2a3ad8"/><rect x="256.70" y="1447.0" width="1.70" height="101.0" fill="#2a3ad8"/><rect x="257.80" y="1447.0" width="1.86" height="101.0" fill="#2a3ad8"/><rect x="259.06" y="1447.0" width="1.69" height="101.0" fill="#0000FF"/><rect x="260.15" y="1447.0" width="1.87" height="101.0" fill="#2a3ad8"/><rect x="261.42" y="1447.0" width="1.91" height="101.0" fill="#1a5aa0"/><rect x="262.73" y="1447.0" width="1.73" height="101.0" fill="#0000FF"/><rect x="263.86" y="1447.0" width="1.84" height="101.0" fill="#1a5aa0"/><rect x="265.10" y="1447.0" width="1.32" height="101.0" fill="#0000FF"/><rect x="265.82" y="1447.0" width="1.58" height="101.0" fill="#2a3ad8"/><rect x="249.00" y="1447.0" width="1.50" height="101.0" fill="#9ae04a"/><rect x="266.80" y="1447.0" width="14.90" height="101.0" fill="#FFC0CB"/><rect x="281.10" y="1447.0" width="1.27" height="101.0" fill="#0000FF"/><rect x="281.77" y="1447.0" width="1.43" height="101.0" fill="#0000FF"/><rect x="282.60" y="1447.0" width="1.11" height="101.0" fill="#1a5aa0"/><rect x="283.11" y="1447.0" width="1.92" height="101.0" fill="#6a3ae8"/><rect x="284.44" y="1447.0" width="1.78" height="101.0" fill="#0000FF"/><rect x="285.61" y="1447.0" width="1.56" height="101.0" fill="#0000FF"/><rect x="286.57" y="1447.0" width="1.21" height="101.0" fill="#0000FF"/><rect x="287.19" y="1447.0" width="1.25" height="101.0" fill="#127a8c"/><rect x="287.84" y="1447.0" width="1.84" height="101.0" fill="#6a3ae8"/><rect x="289.08" y="1447.0" width="1.81" height="101.0" fill="#0000FF"/><rect x="290.29" y="1447.0" width="1.34" height="101.0" fill="#1a5aa0"/><rect x="291.03" y="1447.0" width="1.75" height="101.0" fill="#127a8c"/><rect x="292.18" y="1447.0" width="1.89" height="101.0" fill="#0000FF"/><rect x="293.46" y="1447.0" width="1.63" height="101.0" fill="#1a5aa0"/><rect x="294.49" y="1447.0" width="1.53" height="101.0" fill="#0000FF"/><rect x="295.42" y="1447.0" width="1.50" height="101.0" fill="#0000FF"/><rect x="296.32" y="1447.0" width="1.94" height="101.0" fill="#127a8c"/><rect x="297.66" y="1447.0" width="1.57" height="101.0" fill="#0000FF"/><rect x="298.63" y="1447.0" width="1.91" height="101.0" fill="#1a5aa0"/><rect x="299.94" y="1447.0" width="1.89" height="101.0" fill="#6a3ae8"/><rect x="301.23" y="1447.0" width="1.53" height="101.0" fill="#1a5aa0"/><rect x="302.16" y="1447.0" width="1.62" height="101.0" fill="#1a5aa0"/><rect x="303.18" y="1447.0" width="1.20" height="101.0" fill="#0000FF"/><rect x="303.78" y="1447.0" width="1.82" height="101.0" fill="#0000FF"/><rect x="305.01" y="1447.0" width="1.09" height="101.0" fill="#1a5aa0"/><rect x="305.50" y="1447.0" width="1.32" height="101.0" fill="#1a5aa0"/><rect x="306.22" y="1447.0" width="1.50" height="101.0" fill="#0000FF"/><rect x="307.11" y="1447.0" width="2.00" height="101.0" fill="#0000FF"/><rect x="308.51" y="1447.0" width="1.44" height="101.0" fill="#0000FF"/><rect x="309.35" y="1447.0" width="1.65" height="101.0" fill="#0000FF"/><rect x="310.41" y="1447.0" width="1.39" height="101.0" fill="#6a3ae8"/><rect x="311.19" y="1447.0" width="1.35" height="101.0" fill="#1a5aa0"/><rect x="311.95" y="1447.0" width="1.91" height="101.0" fill="#0000FF"/><rect x="313.26" y="1447.0" width="1.11" height="101.0" fill="#0000FF"/><rect x="313.77" y="1447.0" width="1.78" height="101.0" fill="#1a5aa0"/><rect x="314.94" y="1447.0" width="1.28" height="101.0" fill="#0000FF"/><rect x="315.62" y="1447.0" width="1.22" height="101.0" fill="#1a5aa0"/><rect x="316.24" y="1447.0" width="1.09" height="101.0" fill="#1a5aa0"/><rect x="316.73" y="1447.0" width="1.90" height="101.0" fill="#127a8c"/><rect x="318.03" y="1447.0" width="1.75" height="101.0" fill="#127a8c"/><rect x="319.18" y="1447.0" width="1.07" height="101.0" fill="#0000FF"/><rect x="319.64" y="1447.0" width="1.97" height="101.0" fill="#6a3ae8"/><rect x="321.01" y="1447.0" width="1.44" height="101.0" fill="#127a8c"/><rect x="321.85" y="1447.0" width="1.64" height="101.0" fill="#6a3ae8"/><rect x="322.89" y="1447.0" width="1.33" height="101.0" fill="#0000FF"/><rect x="323.62" y="1447.0" width="1.47" height="101.0" fill="#0000FF"/><rect x="324.49" y="1447.0" width="1.41" height="101.0" fill="#127a8c"/><rect x="325.30" y="1447.0" width="1.36" height="101.0" fill="#0000FF"/><rect x="326.07" y="1447.0" width="1.09" height="101.0" fill="#0000FF"/><rect x="326.56" y="1447.0" width="1.79" height="101.0" fill="#0000FF"/><rect x="327.76" y="1447.0" width="1.24" height="101.0" fill="#0000FF"/><rect x="328.40" y="1447.0" width="9.50" height="101.0" fill="#FFFF00"/><rect x="337.30" y="1447.0" width="1.90" height="101.0" fill="#b0b060"/><rect x="338.60" y="1447.0" width="5.70" height="101.0" fill="#FFFF00"/><rect x="343.70" y="1447.0" width="1.64" height="101.0" fill="#1a5aa0"/><rect x="344.74" y="1447.0" width="1.81" height="101.0" fill="#2a3ad8"/><rect x="345.95" y="1447.0" width="1.75" height="101.0" fill="#2a3ad8"/><rect x="347.10" y="1447.0" width="1.08" height="101.0" fill="#1a5aa0"/><rect x="347.58" y="1447.0" width="1.95" height="101.0" fill="#1a5aa0"/><rect x="348.92" y="1447.0" width="1.91" height="101.0" fill="#0000FF"/><rect x="350.23" y="1447.0" width="1.50" height="101.0" fill="#0000FF"/><rect x="351.13" y="1447.0" width="1.57" height="101.0" fill="#1a5aa0"/><rect x="352.09" y="1447.0" width="1.06" height="101.0" fill="#0000FF"/><rect x="352.55" y="1447.0" width="1.32" height="101.0" fill="#2a3ad8"/><rect x="353.27" y="1447.0" width="1.78" height="101.0" fill="#0000FF"/><rect x="354.45" y="1447.0" width="1.81" height="101.0" fill="#0000FF"/><rect x="355.65" y="1447.0" width="1.64" height="101.0" fill="#0000FF"/><rect x="356.69" y="1447.0" width="1.05" height="101.0" fill="#127a8c"/><rect x="357.14" y="1447.0" width="1.25" height="101.0" fill="#0000FF"/><rect x="357.79" y="1447.0" width="1.98" height="101.0" fill="#127a8c"/><rect x="359.18" y="1447.0" width="1.32" height="101.0" fill="#2a3ad8"/><rect x="359.90" y="1447.0" width="1.56" height="101.0" fill="#1a5aa0"/><rect x="360.86" y="1447.0" width="1.24" height="101.0" fill="#2a3ad8"/><rect x="361.51" y="1447.0" width="1.71" height="101.0" fill="#2a3ad8"/><rect x="362.61" y="1447.0" width="1.90" height="101.0" fill="#0000FF"/><rect x="363.91" y="1447.0" width="1.39" height="101.0" fill="#0000FF"/><rect x="364.71" y="1447.0" width="1.19" height="101.0" fill="#0000FF"/><rect x="365.29" y="1447.0" width="1.34" height="101.0" fill="#1a5aa0"/><rect x="366.03" y="1447.0" width="1.05" height="101.0" fill="#1a5aa0"/><rect x="366.48" y="1447.0" width="1.37" height="101.0" fill="#0000FF"/><rect x="367.25" y="1447.0" width="1.83" height="101.0" fill="#1a5aa0"/><rect x="368.48" y="1447.0" width="1.35" height="101.0" fill="#1a5aa0"/><rect x="369.23" y="1447.0" width="1.72" height="101.0" fill="#0000FF"/><rect x="370.35" y="1447.0" width="1.98" height="101.0" fill="#0000FF"/><rect x="371.73" y="1447.0" width="1.76" height="101.0" fill="#127a8c"/><rect x="372.89" y="1447.0" width="1.07" height="101.0" fill="#127a8c"/><rect x="373.36" y="1447.0" width="1.40" height="101.0" fill="#1a5aa0"/><rect x="374.15" y="1447.0" width="1.06" height="101.0" fill="#0000FF"/><rect x="374.61" y="1447.0" width="1.22" height="101.0" fill="#2a3ad8"/><rect x="375.24" y="1447.0" width="1.24" height="101.0" fill="#127a8c"/><rect x="375.87" y="1447.0" width="1.93" height="101.0" fill="#2a3ad8"/><rect x="377.21" y="1447.0" width="1.38" height="101.0" fill="#0000FF"/><rect x="377.98" y="1447.0" width="1.55" height="101.0" fill="#127a8c"/><rect x="378.93" y="1447.0" width="1.15" height="101.0" fill="#1a5aa0"/><rect x="379.48" y="1447.0" width="1.81" height="101.0" fill="#127a8c"/><rect x="380.69" y="1447.0" width="1.08" height="101.0" fill="#2a3ad8"/><rect x="381.18" y="1447.0" width="1.14" height="101.0" fill="#0000FF"/><rect x="381.71" y="1447.0" width="1.63" height="101.0" fill="#2a3ad8"/><rect x="382.74" y="1447.0" width="1.37" height="101.0" fill="#2a3ad8"/><rect x="383.52" y="1447.0" width="1.57" height="101.0" fill="#0000FF"/><rect x="384.48" y="1447.0" width="1.35" height="101.0" fill="#0000FF"/><rect x="385.23" y="1447.0" width="1.12" height="101.0" fill="#0000FF"/><rect x="385.76" y="1447.0" width="1.70" height="101.0" fill="#2a3ad8"/><rect x="386.86" y="1447.0" width="1.20" height="101.0" fill="#0000FF"/><rect x="387.47" y="1447.0" width="1.99" height="101.0" fill="#1a5aa0"/><rect x="388.85" y="1447.0" width="1.44" height="101.0" fill="#0000FF"/><rect x="389.69" y="1447.0" width="1.61" height="101.0" fill="#127a8c"/><rect x="390.70" y="1447.0" width="1.48" height="101.0" fill="#1a5aa0"/><rect x="391.59" y="1447.0" width="1.10" height="101.0" fill="#2a3ad8"/><rect x="392.09" y="1447.0" width="1.08" height="101.0" fill="#1a5aa0"/><rect x="392.57" y="1447.0" width="1.85" height="101.0" fill="#0000FF"/><rect x="393.82" y="1447.0" width="1.75" height="101.0" fill="#2a3ad8"/><rect x="394.96" y="1447.0" width="1.65" height="101.0" fill="#127a8c"/><rect x="396.01" y="1447.0" width="1.15" height="101.0" fill="#1a5aa0"/><rect x="396.56" y="1447.0" width="1.19" height="101.0" fill="#127a8c"/><rect x="397.15" y="1447.0" width="1.33" height="101.0" fill="#1a5aa0"/><rect x="397.88" y="1447.0" width="2.00" height="101.0" fill="#127a8c"/><rect x="399.28" y="1447.0" width="1.98" height="101.0" fill="#1a5aa0"/><rect x="400.66" y="1447.0" width="1.51" height="101.0" fill="#1a5aa0"/><rect x="401.57" y="1447.0" width="1.51" height="101.0" fill="#0000FF"/><rect x="402.48" y="1447.0" width="1.43" height="101.0" fill="#0000FF"/><rect x="403.31" y="1447.0" width="1.41" height="101.0" fill="#2a3ad8"/><rect x="404.12" y="1447.0" width="1.96" height="101.0" fill="#1a5aa0"/><rect x="405.48" y="1447.0" width="1.52" height="101.0" fill="#0000FF"/><rect x="406.41" y="1447.0" width="1.13" height="101.0" fill="#0000FF"/><rect x="406.94" y="1447.0" width="1.79" height="101.0" fill="#127a8c"/><rect x="408.14" y="1447.0" width="1.39" height="101.0" fill="#127a8c"/><rect x="408.93" y="1447.0" width="1.79" height="101.0" fill="#1a5aa0"/><rect x="410.11" y="1447.0" width="1.68" height="101.0" fill="#127a8c"/><rect x="411.20" y="1447.0" width="1.40" height="101.0" fill="#1a5aa0"/><rect x="411.99" y="1447.0" width="1.32" height="101.0" fill="#1a5aa0"/><rect x="412.71" y="1447.0" width="1.78" height="101.0" fill="#1a5aa0"/><rect x="413.89" y="1447.0" width="1.33" height="101.0" fill="#2a3ad8"/><rect x="414.62" y="1447.0" width="1.67" height="101.0" fill="#1a5aa0"/><rect x="415.69" y="1447.0" width="1.06" height="101.0" fill="#1a5aa0"/><rect x="416.15" y="1447.0" width="1.29" height="101.0" fill="#1a5aa0"/><rect x="416.83" y="1447.0" width="1.49" height="101.0" fill="#127a8c"/><rect x="417.72" y="1447.0" width="1.67" height="101.0" fill="#127a8c"/><rect x="418.79" y="1447.0" width="1.38" height="101.0" fill="#1a5aa0"/><rect x="419.57" y="1447.0" width="1.75" height="101.0" fill="#127a8c"/><rect x="420.72" y="1447.0" width="1.38" height="101.0" fill="#127a8c"/><rect x="421.50" y="1447.0" width="1.88" height="101.0" fill="#1a5aa0"/><rect x="422.78" y="1447.0" width="1.98" height="101.0" fill="#2a3ad8"/><rect x="424.16" y="1447.0" width="1.54" height="101.0" fill="#1a5aa0"/><rect x="425.10" y="1447.0" width="0.80" height="101.0" fill="#127a8c"/><rect x="353.60" y="1447.0" width="1.60" height="101.0" fill="#20b060"/><rect x="383.80" y="1447.0" width="1.60" height="101.0" fill="#20b060"/><rect x="374.20" y="1447.0" width="1.60" height="101.0" fill="#c09080"/><rect x="425.30" y="1447.0" width="39.00" height="101.0" fill="#0000FF"/><rect x="441.60" y="1447.0" width="1.60" height="101.0" fill="#5020f0"/><rect x="458.20" y="1447.0" width="1.60" height="101.0" fill="#7070b0"/><rect x="463.70" y="1447.0" width="7.10" height="101.0" fill="#FFFF00"/><rect x="466.60" y="1447.0" width="1.40" height="101.0" fill="#c0c040"/><rect x="470.20" y="1447.0" width="14.70" height="101.0" fill="#0000FF"/><rect x="484.30" y="1447.0" width="7.60" height="101.0" fill="#A020F0"/><rect x="491.30" y="1447.0" width="55.80" height="101.0" fill="#FFFF00"/><rect x="546.50" y="1447.0" width="3.00" height="101.0" fill="#0000FF"/><rect x="548.90" y="1447.0" width="4.70" height="101.0" fill="#ADFF2F"/><rect x="553.00" y="1447.0" width="1.36" height="101.0" fill="#0000FF"/><rect x="553.76" y="1447.0" width="1.67" height="101.0" fill="#0000FF"/><rect x="554.83" y="1447.0" width="1.56" height="101.0" fill="#0000FF"/><rect x="555.79" y="1447.0" width="1.11" height="101.0" fill="#1a5aa0"/><rect x="556.29" y="1447.0" width="1.09" height="101.0" fill="#1a5aa0"/><rect x="556.78" y="1447.0" width="1.12" height="101.0" fill="#0000FF"/><rect x="557.29" y="1447.0" width="1.45" height="101.0" fill="#127a8c"/><rect x="558.15" y="1447.0" width="1.17" height="101.0" fill="#0000FF"/><rect x="558.71" y="1447.0" width="1.65" height="101.0" fill="#2a3ad8"/><rect x="559.76" y="1447.0" width="1.60" height="101.0" fill="#0000FF"/><rect x="560.76" y="1447.0" width="1.98" height="101.0" fill="#0000FF"/><rect x="562.13" y="1447.0" width="1.87" height="101.0" fill="#0000FF"/><rect x="563.40" y="1447.0" width="1.19" height="101.0" fill="#0000FF"/><rect x="563.99" y="1447.0" width="1.34" height="101.0" fill="#127a8c"/><rect x="564.73" y="1447.0" width="1.22" height="101.0" fill="#1a5aa0"/><rect x="565.35" y="1447.0" width="1.05" height="101.0" fill="#0000FF"/><rect x="565.80" y="1447.0" width="4.40" height="101.0" fill="#18a048"/><rect x="569.60" y="1447.0" width="15.60" height="101.0" fill="#000000"/><rect x="584.60" y="1447.0" width="1.27" height="101.0" fill="#2a3ad8"/><rect x="585.27" y="1447.0" width="1.17" height="101.0" fill="#1a5aa0"/><rect x="585.84" y="1447.0" width="1.13" height="101.0" fill="#0000FF"/><rect x="586.37" y="1447.0" width="2.00" height="101.0" fill="#0000FF"/><rect x="587.77" y="1447.0" width="1.66" height="101.0" fill="#1a5aa0"/><rect x="588.83" y="1447.0" width="1.48" height="101.0" fill="#1a5aa0"/><rect x="589.71" y="1447.0" width="1.23" height="101.0" fill="#127a8c"/><rect x="590.34" y="1447.0" width="1.14" height="101.0" fill="#0000FF"/><rect x="590.87" y="1447.0" width="1.07" height="101.0" fill="#0000FF"/><rect x="591.34" y="1447.0" width="1.44" height="101.0" fill="#2a3ad8"/><rect x="592.18" y="1447.0" width="1.41" height="101.0" fill="#0000FF"/><rect x="592.99" y="1447.0" width="1.30" height="101.0" fill="#2a3ad8"/><rect x="593.69" y="1447.0" width="1.11" height="101.0" fill="#1a5aa0"/><rect x="594.20" y="1447.0" width="1.41" height="101.0" fill="#1a5aa0"/><rect x="595.00" y="1447.0" width="1.37" height="101.0" fill="#1a5aa0"/><rect x="595.78" y="1447.0" width="1.02" height="101.0" fill="#1a5aa0"/><rect x="596.20" y="1447.0" width="11.30" height="101.0" fill="#FF00FF"/><rect x="606.90" y="1447.0" width="1.49" height="101.0" fill="#0000FF"/><rect x="607.79" y="1447.0" width="1.18" height="101.0" fill="#127a8c"/><rect x="608.37" y="1447.0" width="1.06" height="101.0" fill="#127a8c"/><rect x="608.83" y="1447.0" width="1.90" height="101.0" fill="#0000FF"/><rect x="610.13" y="1447.0" width="1.58" height="101.0" fill="#127a8c"/><rect x="611.11" y="1447.0" width="1.09" height="101.0" fill="#0000FF"/><rect x="611.60" y="1447.0" width="1.72" height="101.0" fill="#127a8c"/><rect x="612.71" y="1447.0" width="1.74" height="101.0" fill="#0000FF"/><rect x="613.85" y="1447.0" width="1.28" height="101.0" fill="#0000FF"/><rect x="614.53" y="1447.0" width="1.53" height="101.0" fill="#2a8a70"/><rect x="615.46" y="1447.0" width="1.61" height="101.0" fill="#127a8c"/><rect x="616.47" y="1447.0" width="1.41" height="101.0" fill="#127a8c"/><rect x="617.29" y="1447.0" width="1.15" height="101.0" fill="#0000FF"/><rect x="617.83" y="1447.0" width="1.69" height="101.0" fill="#127a8c"/><rect x="618.92" y="1447.0" width="1.45" height="101.0" fill="#0000FF"/><rect x="619.77" y="1447.0" width="1.30" height="101.0" fill="#0000FF"/><rect x="620.48" y="1447.0" width="1.32" height="101.0" fill="#127a8c"/><rect x="621.19" y="1447.0" width="1.24" height="101.0" fill="#127a8c"/><rect x="621.83" y="1447.0" width="1.89" height="101.0" fill="#0000FF"/><rect x="623.12" y="1447.0" width="1.41" height="101.0" fill="#127a8c"/><rect x="623.93" y="1447.0" width="1.07" height="101.0" fill="#127a8c"/><rect x="624.40" y="1447.0" width="1.91" height="101.0" fill="#0000FF"/><rect x="625.71" y="1447.0" width="1.62" height="101.0" fill="#0000FF"/><rect x="626.73" y="1447.0" width="1.60" height="101.0" fill="#127a8c"/><rect x="627.73" y="1447.0" width="1.24" height="101.0" fill="#0000FF"/><rect x="628.37" y="1447.0" width="1.13" height="101.0" fill="#127a8c"/><rect x="628.90" y="1447.0" width="1.07" height="101.0" fill="#0000FF"/><rect x="629.37" y="1447.0" width="1.52" height="101.0" fill="#2a8a70"/><rect x="630.29" y="1447.0" width="1.45" height="101.0" fill="#0000FF"/><rect x="631.14" y="1447.0" width="1.66" height="101.0" fill="#0000FF"/><rect x="632.20" y="1447.0" width="1.60" height="101.0" fill="#0000FF"/><rect x="633.20" y="1447.0" width="1.63" height="101.0" fill="#2a8a70"/><rect x="634.23" y="1447.0" width="1.10" height="101.0" fill="#127a8c"/><rect x="634.73" y="1447.0" width="1.63" height="101.0" fill="#0000FF"/><rect x="635.75" y="1447.0" width="1.30" height="101.0" fill="#2a8a70"/><rect x="636.46" y="1447.0" width="2.00" height="101.0" fill="#0000FF"/><rect x="637.86" y="1447.0" width="1.64" height="101.0" fill="#2a8a70"/><rect x="638.90" y="1447.0" width="11.60" height="101.0" fill="#0000FF"/><rect x="649.90" y="1447.0" width="13.40" height="101.0" fill="#00FF00"/><rect x="662.70" y="1447.0" width="1.50" height="101.0" fill="#d0a040"/><rect x="663.60" y="1447.0" width="1.60" height="101.0" fill="#3030d0"/><rect x="664.60" y="1447.0" width="52.60" height="101.0" fill="#FF0000"/><rect x="716.60" y="1447.0" width="2.50" height="101.0" fill="#2020e0"/><rect x="718.50" y="1447.0" width="1.59" height="101.0" fill="#4a9a5a"/><rect x="719.49" y="1447.0" width="1.60" height="101.0" fill="#3a6a7a"/><rect x="720.49" y="1447.0" width="1.82" height="101.0" fill="#2a40c0"/><rect x="721.71" y="1447.0" width="1.67" height="101.0" fill="#3a6a7a"/><rect x="722.79" y="1447.0" width="1.54" height="101.0" fill="#4a9a5a"/><rect x="723.73" y="1447.0" width="1.29" height="101.0" fill="#7a6a9a"/><rect x="724.42" y="1447.0" width="2.00" height="101.0" fill="#3a6a7a"/><rect x="725.81" y="1447.0" width="1.87" height="101.0" fill="#6a7070"/><rect x="727.08" y="1447.0" width="1.41" height="101.0" fill="#4a9a5a"/><rect x="727.89" y="1447.0" width="1.69" height="101.0" fill="#6a7070"/><rect x="728.99" y="1447.0" width="1.70" height="101.0" fill="#2a40c0"/><rect x="730.09" y="1447.0" width="1.18" height="101.0" fill="#2a40c0"/><rect x="730.66" y="1447.0" width="1.98" height="101.0" fill="#7a6a9a"/><rect x="732.05" y="1447.0" width="1.63" height="101.0" fill="#3a6a7a"/><rect x="733.08" y="1447.0" width="1.05" height="101.0" fill="#3a6a7a"/><rect x="733.53" y="1447.0" width="1.94" height="101.0" fill="#4a9a5a"/><rect x="734.88" y="1447.0" width="1.40" height="101.0" fill="#7a6a9a"/><rect x="735.67" y="1447.0" width="1.35" height="101.0" fill="#6a7070"/><rect x="736.42" y="1447.0" width="1.46" height="101.0" fill="#3a6a7a"/><rect x="737.29" y="1447.0" width="1.61" height="101.0" fill="#2a40c0"/><rect x="738.29" y="1447.0" width="1.20" height="101.0" fill="#3a6a7a"/><rect x="738.89" y="1447.0" width="1.44" height="101.0" fill="#3a6a7a"/><rect x="739.73" y="1447.0" width="1.52" height="101.0" fill="#2a40c0"/><rect x="740.66" y="1447.0" width="1.54" height="101.0" fill="#6a7070"/><rect x="741.60" y="1447.0" width="1.48" height="101.0" fill="#48a868"/><rect x="742.48" y="1447.0" width="1.93" height="101.0" fill="#48a868"/><rect x="743.81" y="1447.0" width="1.53" height="101.0" fill="#48a868"/><rect x="744.74" y="1447.0" width="1.23" height="101.0" fill="#48a868"/><rect x="745.37" y="1447.0" width="1.65" height="101.0" fill="#5a8a70"/><rect x="746.41" y="1447.0" width="1.14" height="101.0" fill="#48a868"/><rect x="746.95" y="1447.0" width="1.14" height="101.0" fill="#5a8a70"/><rect x="747.49" y="1447.0" width="1.11" height="101.0" fill="#48a868"/><rect x="748.00" y="1447.0" width="10.30" height="101.0" fill="#A52A2A"/><rect x="757.70" y="1447.0" width="1.50" height="101.0" fill="#48b078"/><rect x="758.60" y="1447.0" width="1.68" height="101.0" fill="#40E0D0"/><rect x="759.68" y="1447.0" width="1.06" height="101.0" fill="#72857D"/><rect x="760.14" y="1447.0" width="1.31" height="101.0" fill="#48b078"/><rect x="760.85" y="1447.0" width="1.71" height="101.0" fill="#72857D"/><rect x="761.96" y="1447.0" width="1.58" height="101.0" fill="#48b078"/><rect x="762.94" y="1447.0" width="1.19" height="101.0" fill="#72857D"/><rect x="763.53" y="1447.0" width="1.20" height="101.0" fill="#5ab8a8"/><rect x="764.13" y="1447.0" width="1.11" height="101.0" fill="#48b078"/><rect x="764.64" y="1447.0" width="1.12" height="101.0" fill="#48b078"/><rect x="765.16" y="1447.0" width="1.37" height="101.0" fill="#72857D"/><rect x="765.93" y="1447.0" width="1.85" height="101.0" fill="#40E0D0"/><rect x="767.18" y="1447.0" width="1.11" height="101.0" fill="#5ab8a8"/><rect x="767.69" y="1447.0" width="1.53" height="101.0" fill="#40E0D0"/><rect x="768.62" y="1447.0" width="1.99" height="101.0" fill="#5ab8a8"/><rect x="770.01" y="1447.0" width="1.16" height="101.0" fill="#72857D"/><rect x="770.57" y="1447.0" width="1.18" height="101.0" fill="#40E0D0"/><rect x="771.14" y="1447.0" width="1.64" height="101.0" fill="#40E0D0"/><rect x="772.18" y="1447.0" width="1.71" height="101.0" fill="#40E0D0"/><rect x="773.30" y="1447.0" width="1.21" height="101.0" fill="#48b078"/><rect x="773.91" y="1447.0" width="1.43" height="101.0" fill="#72857D"/><rect x="774.74" y="1447.0" width="1.62" height="101.0" fill="#72857D"/><rect x="775.76" y="1447.0" width="1.42" height="101.0" fill="#40E0D0"/><rect x="776.57" y="1447.0" width="1.74" height="101.0" fill="#5ab8a8"/><rect x="777.71" y="1447.0" width="1.98" height="101.0" fill="#48b078"/><rect x="779.09" y="1447.0" width="1.39" height="101.0" fill="#72857D"/><rect x="779.88" y="1447.0" width="1.71" height="101.0" fill="#48b078"/><rect x="780.98" y="1447.0" width="1.16" height="101.0" fill="#40E0D0"/><rect x="781.54" y="1447.0" width="1.40" height="101.0" fill="#72857D"/><rect x="782.34" y="1447.0" width="1.82" height="101.0" fill="#72857D"/><rect x="783.56" y="1447.0" width="1.08" height="101.0" fill="#48b078"/><rect x="784.03" y="1447.0" width="1.46" height="101.0" fill="#72857D"/><rect x="784.89" y="1447.0" width="1.26" height="101.0" fill="#72857D"/><rect x="785.55" y="1447.0" width="1.42" height="101.0" fill="#48b078"/><rect x="786.37" y="1447.0" width="1.15" height="101.0" fill="#72857D"/><rect x="786.92" y="1447.0" width="1.22" height="101.0" fill="#48b078"/><rect x="787.54" y="1447.0" width="1.09" height="101.0" fill="#40E0D0"/><rect x="788.02" y="1447.0" width="1.38" height="101.0" fill="#72857D"/><rect x="788.80" y="1447.0" width="1.10" height="101.0" fill="#72857D"/><rect x="789.30" y="1447.0" width="1.25" height="101.0" fill="#40E0D0"/><rect x="789.95" y="1447.0" width="1.50" height="101.0" fill="#5ab8a8"/><rect x="790.85" y="1447.0" width="1.51" height="101.0" fill="#5ab8a8"/><rect x="791.76" y="1447.0" width="1.21" height="101.0" fill="#5ab8a8"/><rect x="792.37" y="1447.0" width="1.40" height="101.0" fill="#40E0D0"/><rect x="793.16" y="1447.0" width="1.76" height="101.0" fill="#5ab8a8"/><rect x="794.32" y="1447.0" width="1.06" height="101.0" fill="#40E0D0"/><rect x="794.78" y="1447.0" width="1.78" height="101.0" fill="#40E0D0"/><rect x="795.96" y="1447.0" width="1.28" height="101.0" fill="#40E0D0"/><rect x="796.64" y="1447.0" width="1.09" height="101.0" fill="#72857D"/><rect x="797.13" y="1447.0" width="1.98" height="101.0" fill="#5ab8a8"/><rect x="798.51" y="1447.0" width="1.53" height="101.0" fill="#40E0D0"/><rect x="799.44" y="1447.0" width="1.36" height="101.0" fill="#48b078"/><rect x="800.20" y="1447.0" width="1.84" height="101.0" fill="#72857D"/><rect x="801.44" y="1447.0" width="1.27" height="101.0" fill="#72857D"/><rect x="802.11" y="1447.0" width="1.50" height="101.0" fill="#72857D"/><rect x="803.01" y="1447.0" width="1.30" height="101.0" fill="#5ab8a8"/><rect x="803.71" y="1447.0" width="1.90" height="101.0" fill="#40E0D0"/><rect x="805.01" y="1447.0" width="1.33" height="101.0" fill="#5ab8a8"/><rect x="805.74" y="1447.0" width="1.31" height="101.0" fill="#5ab8a8"/><rect x="806.45" y="1447.0" width="1.54" height="101.0" fill="#48b078"/><rect x="807.39" y="1447.0" width="1.72" height="101.0" fill="#40E0D0"/><rect x="808.51" y="1447.0" width="1.32" height="101.0" fill="#40E0D0"/><rect x="809.23" y="1447.0" width="1.37" height="101.0" fill="#48b078"/><rect x="810.00" y="1447.0" width="1.30" height="101.0" fill="#72857D"/><rect x="810.70" y="1447.0" width="1.70" height="101.0" fill="#5ab8a8"/><rect x="811.80" y="1447.0" width="1.23" height="101.0" fill="#40E0D0"/><rect x="812.42" y="1447.0" width="1.19" height="101.0" fill="#40E0D0"/><rect x="813.01" y="1447.0" width="1.75" height="101.0" fill="#40E0D0"/><rect x="814.16" y="1447.0" width="1.55" height="101.0" fill="#40E0D0"/><rect x="815.11" y="1447.0" width="1.33" height="101.0" fill="#40E0D0"/><rect x="815.84" y="1447.0" width="1.85" height="101.0" fill="#72857D"/><rect x="817.09" y="1447.0" width="1.06" height="101.0" fill="#40E0D0"/><rect x="817.55" y="1447.0" width="1.19" height="101.0" fill="#5ab8a8"/><rect x="818.14" y="1447.0" width="1.82" height="101.0" fill="#5ab8a8"/><rect x="819.36" y="1447.0" width="1.84" height="101.0" fill="#72857D"/><rect x="820.60" y="1447.0" width="1.95" height="101.0" fill="#72857D"/><rect x="821.95" y="1447.0" width="1.29" height="101.0" fill="#5ab8a8"/><rect x="822.64" y="1447.0" width="1.51" height="101.0" fill="#72857D"/><rect x="823.56" y="1447.0" width="1.59" height="101.0" fill="#40E0D0"/><rect x="824.54" y="1447.0" width="1.40" height="101.0" fill="#40E0D0"/><rect x="825.34" y="1447.0" width="1.35" height="101.0" fill="#40E0D0"/><rect x="826.09" y="1447.0" width="1.83" height="101.0" fill="#72857D"/><rect x="827.31" y="1447.0" width="1.99" height="101.0" fill="#72857D"/><rect x="828.70" y="1447.0" width="1.58" height="101.0" fill="#72857D"/><rect x="829.68" y="1447.0" width="1.18" height="101.0" fill="#72857D"/><rect x="830.26" y="1447.0" width="1.47" height="101.0" fill="#40E0D0"/><rect x="831.13" y="1447.0" width="1.24" height="101.0" fill="#72857D"/><rect x="831.77" y="1447.0" width="1.29" height="101.0" fill="#72857D"/><rect x="832.46" y="1447.0" width="1.63" height="101.0" fill="#40E0D0"/><rect x="833.48" y="1447.0" width="1.17" height="101.0" fill="#72857D"/><rect x="834.06" y="1447.0" width="1.27" height="101.0" fill="#40E0D0"/><rect x="834.73" y="1447.0" width="1.23" height="101.0" fill="#40E0D0"/><rect x="835.37" y="1447.0" width="1.12" height="101.0" fill="#72857D"/><rect x="835.89" y="1447.0" width="1.96" height="101.0" fill="#40E0D0"/><rect x="837.24" y="1447.0" width="1.73" height="101.0" fill="#5ab8a8"/><rect x="838.38" y="1447.0" width="1.09" height="101.0" fill="#40E0D0"/><rect x="838.87" y="1447.0" width="1.82" height="101.0" fill="#5ab8a8"/><rect x="840.08" y="1447.0" width="1.66" height="101.0" fill="#40E0D0"/><rect x="841.14" y="1447.0" width="1.44" height="101.0" fill="#5ab8a8"/><rect x="841.98" y="1447.0" width="1.89" height="101.0" fill="#5ab8a8"/><rect x="843.27" y="1447.0" width="1.24" height="101.0" fill="#5ab8a8"/><rect x="843.92" y="1447.0" width="1.41" height="101.0" fill="#72857D"/><rect x="844.72" y="1447.0" width="1.18" height="101.0" fill="#5ab8a8"/><rect x="845.30" y="1447.0" width="1.62" height="101.0" fill="#72857D"/><rect x="846.33" y="1447.0" width="1.25" height="101.0" fill="#72857D"/><rect x="846.98" y="1447.0" width="1.60" height="101.0" fill="#72857D"/><rect x="847.98" y="1447.0" width="1.39" height="101.0" fill="#72857D"/><rect x="848.77" y="1447.0" width="1.37" height="101.0" fill="#40E0D0"/><rect x="849.55" y="1447.0" width="1.21" height="101.0" fill="#72857D"/><rect x="850.15" y="1447.0" width="1.16" height="101.0" fill="#40E0D0"/><rect x="850.71" y="1447.0" width="1.12" height="101.0" fill="#72857D"/><rect x="851.22" y="1447.0" width="1.58" height="101.0" fill="#72857D"/><rect x="852.20" y="1447.0" width="1.09" height="101.0" fill="#40E0D0"/><rect x="852.69" y="1447.0" width="1.38" height="101.0" fill="#40E0D0"/><rect x="853.47" y="1447.0" width="1.05" height="101.0" fill="#5ab8a8"/><rect x="853.92" y="1447.0" width="1.17" height="101.0" fill="#40E0D0"/><rect x="854.48" y="1447.0" width="1.31" height="101.0" fill="#72857D"/><rect x="855.19" y="1447.0" width="1.12" height="101.0" fill="#72857D"/><rect x="855.71" y="1447.0" width="1.40" height="101.0" fill="#5ab8a8"/><rect x="856.51" y="1447.0" width="1.06" height="101.0" fill="#40E0D0"/><rect x="856.97" y="1447.0" width="1.52" height="101.0" fill="#5ab8a8"/><rect x="857.89" y="1447.0" width="1.54" height="101.0" fill="#72857D"/><rect x="858.83" y="1447.0" width="0.77" height="101.0" fill="#40E0D0"/><rect x="824.40" y="1447.0" width="3.80" height="101.0" fill="#FA8072"/><rect x="859.00" y="1447.0" width="98.40" height="101.0" fill="#A52A2A"/><rect x="956.80" y="1447.0" width="414.20" height="101.0" fill="#40E0D0"/><rect x="203.60" y="1548.0" width="2.40" height="102.5" fill="#2a10f0"/><rect x="205.40" y="1548.0" width="5.20" height="102.5" fill="#D2B48C"/><rect x="210.00" y="1548.0" width="1.10" height="102.5" fill="#0000FF"/><rect x="210.50" y="1548.0" width="1.38" height="102.5" fill="#0000FF"/><rect x="211.28" y="1548.0" width="1.13" height="102.5" fill="#3a2aff"/><rect x="211.81" y="1548.0" width="1.48" height="102.5" fill="#0000FF"/><rect x="212.69" y="1548.0" width="1.30" height="102.5" fill="#0000FF"/><rect x="213.40" y="1548.0" width="1.00" height="102.5" fill="#0000FF"/><rect x="213.80" y="1548.0" width="1.35" height="102.5" fill="#0000FF"/><rect x="214.55" y="1548.0" width="1.48" height="102.5" fill="#0000FF"/><rect x="215.43" y="1548.0" width="1.14" height="102.5" fill="#0000FF"/><rect x="215.97" y="1548.0" width="1.60" height="102.5" fill="#3a2aff"/><rect x="216.96" y="1548.0" width="1.53" height="102.5" fill="#0000FF"/><rect x="217.89" y="1548.0" width="1.02" height="102.5" fill="#0000FF"/><rect x="218.31" y="1548.0" width="1.30" height="102.5" fill="#0000FF"/><rect x="219.01" y="1548.0" width="1.57" height="102.5" fill="#0000FF"/><rect x="219.98" y="1548.0" width="1.09" height="102.5" fill="#3a2aff"/><rect x="220.47" y="1548.0" width="1.07" height="102.5" fill="#9a80f0"/><rect x="220.95" y="1548.0" width="1.27" height="102.5" fill="#0000FF"/><rect x="221.62" y="1548.0" width="1.21" height="102.5" fill="#0000FF"/><rect x="222.23" y="1548.0" width="1.11" height="102.5" fill="#0000FF"/><rect x="222.74" y="1548.0" width="1.52" height="102.5" fill="#0000FF"/><rect x="223.66" y="1548.0" width="1.47" height="102.5" fill="#0000FF"/><rect x="224.53" y="1548.0" width="1.58" height="102.5" fill="#9a80f0"/><rect x="225.51" y="1548.0" width="1.45" height="102.5" fill="#3a2aff"/><rect x="226.36" y="1548.0" width="1.35" height="102.5" fill="#3a2aff"/><rect x="227.11" y="1548.0" width="1.07" height="102.5" fill="#0000FF"/><rect x="227.58" y="1548.0" width="1.50" height="102.5" fill="#0000FF"/><rect x="228.48" y="1548.0" width="1.55" height="102.5" fill="#9a80f0"/><rect x="229.43" y="1548.0" width="1.25" height="102.5" fill="#0000FF"/><rect x="230.08" y="1548.0" width="1.27" height="102.5" fill="#0000FF"/><rect x="230.75" y="1548.0" width="1.60" height="102.5" fill="#0000FF"/><rect x="231.74" y="1548.0" width="1.02" height="102.5" fill="#0000FF"/><rect x="232.16" y="1548.0" width="1.43" height="102.5" fill="#9a80f0"/><rect x="232.99" y="1548.0" width="1.30" height="102.5" fill="#0000FF"/><rect x="233.69" y="1548.0" width="1.33" height="102.5" fill="#3a2aff"/><rect x="234.42" y="1548.0" width="1.13" height="102.5" fill="#0000FF"/><rect x="234.95" y="1548.0" width="1.33" height="102.5" fill="#0000FF"/><rect x="235.69" y="1548.0" width="1.11" height="102.5" fill="#0000FF"/><rect x="236.20" y="1548.0" width="1.21" height="102.5" fill="#9a80f0"/><rect x="236.80" y="1548.0" width="1.21" height="102.5" fill="#0000FF"/><rect x="237.41" y="1548.0" width="1.18" height="102.5" fill="#0000FF"/><rect x="238.00" y="1548.0" width="1.04" height="102.5" fill="#3a2aff"/><rect x="238.44" y="1548.0" width="1.47" height="102.5" fill="#0000FF"/><rect x="239.30" y="1548.0" width="1.41" height="102.5" fill="#0000FF"/><rect x="240.11" y="1548.0" width="1.54" height="102.5" fill="#9a80f0"/><rect x="241.05" y="1548.0" width="1.24" height="102.5" fill="#9a80f0"/><rect x="241.70" y="1548.0" width="1.58" height="102.5" fill="#0000FF"/><rect x="242.67" y="1548.0" width="1.53" height="102.5" fill="#0000FF"/><rect x="243.60" y="1548.0" width="1.23" height="102.5" fill="#0000FF"/><rect x="244.23" y="1548.0" width="1.53" height="102.5" fill="#0000FF"/><rect x="245.15" y="1548.0" width="1.04" height="102.5" fill="#3a2aff"/><rect x="245.59" y="1548.0" width="1.46" height="102.5" fill="#0000FF"/><rect x="246.46" y="1548.0" width="1.50" height="102.5" fill="#0000FF"/><rect x="247.36" y="1548.0" width="1.15" height="102.5" fill="#0000FF"/><rect x="247.92" y="1548.0" width="1.25" height="102.5" fill="#0000FF"/><rect x="248.57" y="1548.0" width="1.04" height="102.5" fill="#0000FF"/><rect x="249.01" y="1548.0" width="1.54" height="102.5" fill="#9a80f0"/><rect x="249.95" y="1548.0" width="1.45" height="102.5" fill="#0000FF"/><rect x="250.80" y="1548.0" width="1.15" height="102.5" fill="#9a80f0"/><rect x="251.35" y="1548.0" width="1.32" height="102.5" fill="#3a2aff"/><rect x="252.06" y="1548.0" width="1.02" height="102.5" fill="#0000FF"/><rect x="252.48" y="1548.0" width="1.50" height="102.5" fill="#3a2aff"/><rect x="253.38" y="1548.0" width="1.53" height="102.5" fill="#0000FF"/><rect x="254.31" y="1548.0" width="1.26" height="102.5" fill="#0000FF"/><rect x="254.97" y="1548.0" width="1.51" height="102.5" fill="#0000FF"/><rect x="255.88" y="1548.0" width="1.32" height="102.5" fill="#0000FF"/><rect x="256.60" y="1548.0" width="1.46" height="102.5" fill="#0000FF"/><rect x="257.46" y="1548.0" width="1.41" height="102.5" fill="#9a80f0"/><rect x="258.27" y="1548.0" width="1.01" height="102.5" fill="#0000FF"/><rect x="258.68" y="1548.0" width="1.39" height="102.5" fill="#9a80f0"/><rect x="259.47" y="1548.0" width="1.35" height="102.5" fill="#0000FF"/><rect x="260.22" y="1548.0" width="1.24" height="102.5" fill="#9a80f0"/><rect x="260.86" y="1548.0" width="1.54" height="102.5" fill="#0000FF"/><rect x="261.81" y="1548.0" width="1.06" height="102.5" fill="#0000FF"/><rect x="262.26" y="1548.0" width="1.02" height="102.5" fill="#0000FF"/><rect x="262.68" y="1548.0" width="1.08" height="102.5" fill="#9a80f0"/><rect x="263.16" y="1548.0" width="1.39" height="102.5" fill="#0000FF"/><rect x="263.96" y="1548.0" width="1.32" height="102.5" fill="#0000FF"/><rect x="264.68" y="1548.0" width="1.30" height="102.5" fill="#0000FF"/><rect x="265.38" y="1548.0" width="1.10" height="102.5" fill="#0000FF"/><rect x="265.88" y="1548.0" width="1.23" height="102.5" fill="#3a2aff"/><rect x="266.50" y="1548.0" width="0.90" height="102.5" fill="#0000FF"/><rect x="249.00" y="1548.0" width="1.50" height="102.5" fill="#b0e060"/><rect x="266.80" y="1548.0" width="14.90" height="102.5" fill="#FFC0CB"/><rect x="281.10" y="1548.0" width="1.57" height="102.5" fill="#0000FF"/><rect x="282.07" y="1548.0" width="1.01" height="102.5" fill="#9a80f0"/><rect x="282.49" y="1548.0" width="1.11" height="102.5" fill="#0000FF"/><rect x="283.00" y="1548.0" width="1.39" height="102.5" fill="#0000FF"/><rect x="283.79" y="1548.0" width="1.53" height="102.5" fill="#0000FF"/><rect x="284.72" y="1548.0" width="1.58" height="102.5" fill="#0000FF"/><rect x="285.70" y="1548.0" width="1.36" height="102.5" fill="#9a80f0"/><rect x="286.46" y="1548.0" width="1.41" height="102.5" fill="#9a80f0"/><rect x="287.27" y="1548.0" width="1.42" height="102.5" fill="#0000FF"/><rect x="288.10" y="1548.0" width="1.53" height="102.5" fill="#0000FF"/><rect x="289.03" y="1548.0" width="1.19" height="102.5" fill="#0000FF"/><rect x="289.61" y="1548.0" width="1.51" height="102.5" fill="#0000FF"/><rect x="290.52" y="1548.0" width="1.56" height="102.5" fill="#3a2aff"/><rect x="291.48" y="1548.0" width="1.58" height="102.5" fill="#0000FF"/><rect x="292.46" y="1548.0" width="1.42" height="102.5" fill="#0000FF"/><rect x="293.28" y="1548.0" width="1.16" height="102.5" fill="#9a80f0"/><rect x="293.84" y="1548.0" width="1.19" height="102.5" fill="#3a2aff"/><rect x="294.42" y="1548.0" width="1.57" height="102.5" fill="#0000FF"/><rect x="295.40" y="1548.0" width="1.09" height="102.5" fill="#9a80f0"/><rect x="295.88" y="1548.0" width="1.40" height="102.5" fill="#0000FF"/><rect x="296.68" y="1548.0" width="1.03" height="102.5" fill="#0000FF"/><rect x="297.11" y="1548.0" width="1.02" height="102.5" fill="#9a80f0"/><rect x="297.53" y="1548.0" width="1.30" height="102.5" fill="#0000FF"/><rect x="298.23" y="1548.0" width="1.25" height="102.5" fill="#0000FF"/><rect x="298.88" y="1548.0" width="1.55" height="102.5" fill="#0000FF"/><rect x="299.83" y="1548.0" width="1.22" height="102.5" fill="#0000FF"/><rect x="300.45" y="1548.0" width="1.18" height="102.5" fill="#0000FF"/><rect x="301.03" y="1548.0" width="1.33" height="102.5" fill="#0000FF"/><rect x="301.76" y="1548.0" width="1.40" height="102.5" fill="#0000FF"/><rect x="302.56" y="1548.0" width="1.05" height="102.5" fill="#9a80f0"/><rect x="303.01" y="1548.0" width="1.21" height="102.5" fill="#0000FF"/><rect x="303.63" y="1548.0" width="1.24" height="102.5" fill="#9a80f0"/><rect x="304.27" y="1548.0" width="1.57" height="102.5" fill="#0000FF"/><rect x="305.24" y="1548.0" width="1.24" height="102.5" fill="#0000FF"/><rect x="305.88" y="1548.0" width="1.54" height="102.5" fill="#0000FF"/><rect x="306.82" y="1548.0" width="1.33" height="102.5" fill="#0000FF"/><rect x="307.55" y="1548.0" width="1.20" height="102.5" fill="#0000FF"/><rect x="308.14" y="1548.0" width="1.11" height="102.5" fill="#0000FF"/><rect x="308.66" y="1548.0" width="1.32" height="102.5" fill="#3a2aff"/><rect x="309.38" y="1548.0" width="1.39" height="102.5" fill="#0000FF"/><rect x="310.17" y="1548.0" width="1.42" height="102.5" fill="#0000FF"/><rect x="310.98" y="1548.0" width="1.25" height="102.5" fill="#9a80f0"/><rect x="311.63" y="1548.0" width="1.55" height="102.5" fill="#0000FF"/><rect x="312.58" y="1548.0" width="1.51" height="102.5" fill="#0000FF"/><rect x="313.49" y="1548.0" width="1.31" height="102.5" fill="#0000FF"/><rect x="314.21" y="1548.0" width="1.59" height="102.5" fill="#3a2aff"/><rect x="315.20" y="1548.0" width="1.28" height="102.5" fill="#3a2aff"/><rect x="315.88" y="1548.0" width="1.39" height="102.5" fill="#0000FF"/><rect x="316.67" y="1548.0" width="1.47" height="102.5" fill="#3a2aff"/><rect x="317.54" y="1548.0" width="1.37" height="102.5" fill="#9a80f0"/><rect x="318.31" y="1548.0" width="1.01" height="102.5" fill="#0000FF"/><rect x="318.72" y="1548.0" width="1.38" height="102.5" fill="#0000FF"/><rect x="319.50" y="1548.0" width="1.10" height="102.5" fill="#0000FF"/><rect x="320.00" y="1548.0" width="1.26" height="102.5" fill="#0000FF"/><rect x="320.66" y="1548.0" width="1.03" height="102.5" fill="#9a80f0"/><rect x="321.09" y="1548.0" width="1.21" height="102.5" fill="#0000FF"/><rect x="321.70" y="1548.0" width="1.13" height="102.5" fill="#0000FF"/><rect x="322.23" y="1548.0" width="1.52" height="102.5" fill="#0000FF"/><rect x="323.15" y="1548.0" width="1.17" height="102.5" fill="#0000FF"/><rect x="323.71" y="1548.0" width="1.28" height="102.5" fill="#0000FF"/><rect x="324.39" y="1548.0" width="1.21" height="102.5" fill="#3a2aff"/><rect x="325.00" y="1548.0" width="1.56" height="102.5" fill="#9a80f0"/><rect x="325.96" y="1548.0" width="1.02" height="102.5" fill="#0000FF"/><rect x="326.38" y="1548.0" width="1.51" height="102.5" fill="#0000FF"/><rect x="327.29" y="1548.0" width="1.12" height="102.5" fill="#0000FF"/><rect x="327.81" y="1548.0" width="1.19" height="102.5" fill="#3a2aff"/><rect x="328.40" y="1548.0" width="15.90" height="102.5" fill="#0000FF"/><rect x="343.70" y="1548.0" width="1.01" height="102.5" fill="#0000FF"/><rect x="344.11" y="1548.0" width="1.24" height="102.5" fill="#0000FF"/><rect x="344.74" y="1548.0" width="1.08" height="102.5" fill="#0000FF"/><rect x="345.23" y="1548.0" width="1.14" height="102.5" fill="#3a2aff"/><rect x="345.77" y="1548.0" width="1.09" height="102.5" fill="#3a2aff"/><rect x="346.25" y="1548.0" width="1.40" height="102.5" fill="#0000FF"/><rect x="347.05" y="1548.0" width="1.32" height="102.5" fill="#0000FF"/><rect x="347.77" y="1548.0" width="1.25" height="102.5" fill="#9a80f0"/><rect x="348.42" y="1548.0" width="1.06" height="102.5" fill="#0000FF"/><rect x="348.88" y="1548.0" width="1.56" height="102.5" fill="#0000FF"/><rect x="349.84" y="1548.0" width="1.12" height="102.5" fill="#0000FF"/><rect x="350.36" y="1548.0" width="1.22" height="102.5" fill="#9a80f0"/><rect x="350.98" y="1548.0" width="1.13" height="102.5" fill="#0000FF"/><rect x="351.50" y="1548.0" width="1.35" height="102.5" fill="#0000FF"/><rect x="352.25" y="1548.0" width="1.57" height="102.5" fill="#9a80f0"/><rect x="353.23" y="1548.0" width="1.21" height="102.5" fill="#0000FF"/><rect x="353.84" y="1548.0" width="1.50" height="102.5" fill="#9a80f0"/><rect x="354.74" y="1548.0" width="1.02" height="102.5" fill="#3a2aff"/><rect x="355.16" y="1548.0" width="1.52" height="102.5" fill="#0000FF"/><rect x="356.08" y="1548.0" width="1.13" height="102.5" fill="#3a2aff"/><rect x="356.61" y="1548.0" width="1.44" height="102.5" fill="#0000FF"/><rect x="357.45" y="1548.0" width="1.38" height="102.5" fill="#0000FF"/><rect x="358.24" y="1548.0" width="1.02" height="102.5" fill="#0000FF"/><rect x="358.66" y="1548.0" width="1.20" height="102.5" fill="#0000FF"/><rect x="359.26" y="1548.0" width="1.39" height="102.5" fill="#9a80f0"/><rect x="360.05" y="1548.0" width="1.58" height="102.5" fill="#9a80f0"/><rect x="361.03" y="1548.0" width="1.60" height="102.5" fill="#3a2aff"/><rect x="362.02" y="1548.0" width="1.18" height="102.5" fill="#0000FF"/><rect x="362.61" y="1548.0" width="1.37" height="102.5" fill="#0000FF"/><rect x="363.38" y="1548.0" width="1.40" height="102.5" fill="#0000FF"/><rect x="364.18" y="1548.0" width="1.12" height="102.5" fill="#9a80f0"/><rect x="364.70" y="1548.0" width="1.36" height="102.5" fill="#0000FF"/><rect x="365.46" y="1548.0" width="1.06" height="102.5" fill="#0000FF"/><rect x="365.92" y="1548.0" width="1.55" height="102.5" fill="#0000FF"/><rect x="366.86" y="1548.0" width="1.59" height="102.5" fill="#0000FF"/><rect x="367.86" y="1548.0" width="1.27" height="102.5" fill="#3a2aff"/><rect x="368.53" y="1548.0" width="1.27" height="102.5" fill="#3a2aff"/><rect x="369.20" y="1548.0" width="1.34" height="102.5" fill="#0000FF"/><rect x="369.94" y="1548.0" width="1.06" height="102.5" fill="#9a80f0"/><rect x="370.40" y="1548.0" width="1.07" height="102.5" fill="#0000FF"/><rect x="370.87" y="1548.0" width="1.20" height="102.5" fill="#3a2aff"/><rect x="371.47" y="1548.0" width="1.51" height="102.5" fill="#0000FF"/><rect x="372.38" y="1548.0" width="1.30" height="102.5" fill="#3a2aff"/><rect x="373.08" y="1548.0" width="1.17" height="102.5" fill="#0000FF"/><rect x="373.65" y="1548.0" width="1.37" height="102.5" fill="#0000FF"/><rect x="374.41" y="1548.0" width="1.02" height="102.5" fill="#0000FF"/><rect x="374.84" y="1548.0" width="1.08" height="102.5" fill="#3a2aff"/><rect x="375.32" y="1548.0" width="1.42" height="102.5" fill="#9a80f0"/><rect x="376.14" y="1548.0" width="1.46" height="102.5" fill="#0000FF"/><rect x="377.00" y="1548.0" width="1.46" height="102.5" fill="#9a80f0"/><rect x="377.85" y="1548.0" width="1.21" height="102.5" fill="#0000FF"/><rect x="378.46" y="1548.0" width="1.23" height="102.5" fill="#0000FF"/><rect x="379.09" y="1548.0" width="1.11" height="102.5" fill="#0000FF"/><rect x="379.59" y="1548.0" width="1.07" height="102.5" fill="#9a80f0"/><rect x="380.07" y="1548.0" width="1.03" height="102.5" fill="#0000FF"/><rect x="380.50" y="1548.0" width="1.12" height="102.5" fill="#0000FF"/><rect x="381.02" y="1548.0" width="1.49" height="102.5" fill="#0000FF"/><rect x="381.92" y="1548.0" width="1.11" height="102.5" fill="#0000FF"/><rect x="382.43" y="1548.0" width="1.42" height="102.5" fill="#0000FF"/><rect x="383.24" y="1548.0" width="1.52" height="102.5" fill="#0000FF"/><rect x="384.16" y="1548.0" width="1.31" height="102.5" fill="#3a2aff"/><rect x="384.87" y="1548.0" width="1.28" height="102.5" fill="#3a2aff"/><rect x="385.55" y="1548.0" width="1.28" height="102.5" fill="#0000FF"/><rect x="386.23" y="1548.0" width="1.07" height="102.5" fill="#3a2aff"/><rect x="386.70" y="1548.0" width="1.45" height="102.5" fill="#9a80f0"/><rect x="387.55" y="1548.0" width="1.41" height="102.5" fill="#0000FF"/><rect x="388.37" y="1548.0" width="1.10" height="102.5" fill="#9a80f0"/><rect x="388.87" y="1548.0" width="1.07" height="102.5" fill="#0000FF"/><rect x="389.34" y="1548.0" width="1.08" height="102.5" fill="#0000FF"/><rect x="389.82" y="1548.0" width="1.18" height="102.5" fill="#0000FF"/><rect x="390.41" y="1548.0" width="1.43" height="102.5" fill="#0000FF"/><rect x="391.23" y="1548.0" width="1.15" height="102.5" fill="#3a2aff"/><rect x="391.78" y="1548.0" width="1.44" height="102.5" fill="#9a80f0"/><rect x="392.62" y="1548.0" width="1.02" height="102.5" fill="#0000FF"/><rect x="393.04" y="1548.0" width="1.54" height="102.5" fill="#0000FF"/><rect x="393.98" y="1548.0" width="1.12" height="102.5" fill="#3a2aff"/><rect x="394.50" y="1548.0" width="1.22" height="102.5" fill="#0000FF"/><rect x="395.12" y="1548.0" width="1.49" height="102.5" fill="#0000FF"/><rect x="396.01" y="1548.0" width="1.12" height="102.5" fill="#0000FF"/><rect x="396.53" y="1548.0" width="1.21" height="102.5" fill="#0000FF"/><rect x="397.13" y="1548.0" width="1.22" height="102.5" fill="#3a2aff"/><rect x="397.75" y="1548.0" width="1.04" height="102.5" fill="#0000FF"/><rect x="398.19" y="1548.0" width="1.37" height="102.5" fill="#0000FF"/><rect x="398.97" y="1548.0" width="1.30" height="102.5" fill="#9a80f0"/><rect x="399.67" y="1548.0" width="1.17" height="102.5" fill="#0000FF"/><rect x="400.23" y="1548.0" width="1.02" height="102.5" fill="#0000FF"/><rect x="400.65" y="1548.0" width="1.18" height="102.5" fill="#0000FF"/><rect x="401.23" y="1548.0" width="1.00" height="102.5" fill="#0000FF"/><rect x="401.64" y="1548.0" width="1.23" height="102.5" fill="#3a2aff"/><rect x="402.26" y="1548.0" width="1.18" height="102.5" fill="#9a80f0"/><rect x="402.84" y="1548.0" width="1.35" height="102.5" fill="#0000FF"/><rect x="403.59" y="1548.0" width="1.47" height="102.5" fill="#0000FF"/><rect x="404.46" y="1548.0" width="1.36" height="102.5" fill="#9a80f0"/><rect x="405.22" y="1548.0" width="1.32" height="102.5" fill="#0000FF"/><rect x="405.95" y="1548.0" width="1.06" height="102.5" fill="#0000FF"/><rect x="406.40" y="1548.0" width="1.11" height="102.5" fill="#0000FF"/><rect x="406.92" y="1548.0" width="1.33" height="102.5" fill="#9a80f0"/><rect x="407.64" y="1548.0" width="1.40" height="102.5" fill="#0000FF"/><rect x="408.45" y="1548.0" width="1.52" height="102.5" fill="#0000FF"/><rect x="409.36" y="1548.0" width="1.23" height="102.5" fill="#0000FF"/><rect x="409.99" y="1548.0" width="1.33" height="102.5" fill="#0000FF"/><rect x="410.73" y="1548.0" width="1.25" height="102.5" fill="#9a80f0"/><rect x="411.37" y="1548.0" width="1.15" height="102.5" fill="#3a2aff"/><rect x="411.92" y="1548.0" width="1.03" height="102.5" fill="#9a80f0"/><rect x="412.35" y="1548.0" width="1.41" height="102.5" fill="#0000FF"/><rect x="413.16" y="1548.0" width="1.59" height="102.5" fill="#3a2aff"/><rect x="414.15" y="1548.0" width="1.04" height="102.5" fill="#0000FF"/><rect x="414.58" y="1548.0" width="1.30" height="102.5" fill="#9a80f0"/><rect x="415.28" y="1548.0" width="1.08" height="102.5" fill="#0000FF"/><rect x="415.76" y="1548.0" width="1.19" height="102.5" fill="#0000FF"/><rect x="416.35" y="1548.0" width="1.25" height="102.5" fill="#0000FF"/><rect x="417.00" y="1548.0" width="1.26" height="102.5" fill="#0000FF"/><rect x="417.66" y="1548.0" width="1.01" height="102.5" fill="#3a2aff"/><rect x="418.07" y="1548.0" width="1.26" height="102.5" fill="#0000FF"/><rect x="418.74" y="1548.0" width="1.29" height="102.5" fill="#0000FF"/><rect x="419.43" y="1548.0" width="1.54" height="102.5" fill="#9a80f0"/><rect x="420.37" y="1548.0" width="1.44" height="102.5" fill="#0000FF"/><rect x="421.20" y="1548.0" width="1.10" height="102.5" fill="#0000FF"/><rect x="421.70" y="1548.0" width="1.52" height="102.5" fill="#0000FF"/><rect x="422.62" y="1548.0" width="1.34" height="102.5" fill="#9a80f0"/><rect x="423.36" y="1548.0" width="1.19" height="102.5" fill="#0000FF"/><rect x="423.95" y="1548.0" width="1.25" height="102.5" fill="#9a80f0"/><rect x="424.60" y="1548.0" width="1.30" height="102.5" fill="#9a80f0"/><rect x="353.60" y="1548.0" width="1.60" height="102.5" fill="#c0a0f0"/><rect x="425.30" y="1548.0" width="59.60" height="102.5" fill="#0000FF"/><rect x="441.60" y="1548.0" width="1.60" height="102.5" fill="#5020f0"/><rect x="484.30" y="1548.0" width="7.60" height="102.5" fill="#A020F0"/><rect x="491.30" y="1548.0" width="57.80" height="102.5" fill="#0000FF"/><rect x="548.50" y="1548.0" width="5.10" height="102.5" fill="#ADFF2F"/><rect x="553.00" y="1548.0" width="1.73" height="102.5" fill="#9a80f0"/><rect x="554.13" y="1548.0" width="1.22" height="102.5" fill="#9a80f0"/><rect x="554.75" y="1548.0" width="1.23" height="102.5" fill="#0000FF"/><rect x="555.38" y="1548.0" width="1.14" height="102.5" fill="#3a2aff"/><rect x="555.92" y="1548.0" width="1.19" height="102.5" fill="#3a2aff"/><rect x="556.52" y="1548.0" width="1.74" height="102.5" fill="#3a2aff"/><rect x="557.65" y="1548.0" width="1.47" height="102.5" fill="#9a80f0"/><rect x="558.52" y="1548.0" width="1.99" height="102.5" fill="#0000FF"/><rect x="559.91" y="1548.0" width="1.54" height="102.5" fill="#9a80f0"/><rect x="560.85" y="1548.0" width="1.75" height="102.5" fill="#0000FF"/><rect x="562.00" y="1548.0" width="1.34" height="102.5" fill="#9a80f0"/><rect x="562.74" y="1548.0" width="1.13" height="102.5" fill="#3a2aff"/><rect x="563.28" y="1548.0" width="1.85" height="102.5" fill="#0000FF"/><rect x="564.53" y="1548.0" width="1.36" height="102.5" fill="#0000FF"/><rect x="565.29" y="1548.0" width="1.11" height="102.5" fill="#0000FF"/><rect x="565.80" y="1548.0" width="3.80" height="102.5" fill="#c0a0e8"/><rect x="569.00" y="1548.0" width="16.20" height="102.5" fill="#FFC0CB"/><rect x="584.60" y="1548.0" width="1.41" height="102.5" fill="#3a2cff"/><rect x="585.41" y="1548.0" width="1.85" height="102.5" fill="#0000FF"/><rect x="586.66" y="1548.0" width="1.88" height="102.5" fill="#0000FF"/><rect x="587.94" y="1548.0" width="1.09" height="102.5" fill="#3a2cff"/><rect x="588.43" y="1548.0" width="1.29" height="102.5" fill="#0000FF"/><rect x="589.12" y="1548.0" width="1.45" height="102.5" fill="#0000FF"/><rect x="589.97" y="1548.0" width="1.17" height="102.5" fill="#0000FF"/><rect x="590.54" y="1548.0" width="1.84" height="102.5" fill="#0000FF"/><rect x="591.78" y="1548.0" width="1.80" height="102.5" fill="#0000FF"/><rect x="592.99" y="1548.0" width="1.83" height="102.5" fill="#0000FF"/><rect x="594.22" y="1548.0" width="1.39" height="102.5" fill="#0000FF"/><rect x="595.01" y="1548.0" width="1.15" height="102.5" fill="#3a2cff"/><rect x="595.56" y="1548.0" width="1.24" height="102.5" fill="#0000FF"/><rect x="596.20" y="1548.0" width="11.30" height="102.5" fill="#FF00FF"/><rect x="606.90" y="1548.0" width="1.76" height="102.5" fill="#0000FF"/><rect x="608.06" y="1548.0" width="1.24" height="102.5" fill="#6a5cf0"/><rect x="608.70" y="1548.0" width="1.10" height="102.5" fill="#6a5cf0"/><rect x="609.21" y="1548.0" width="1.78" height="102.5" fill="#0000FF"/><rect x="610.38" y="1548.0" width="1.70" height="102.5" fill="#6a5cf0"/><rect x="611.48" y="1548.0" width="1.65" height="102.5" fill="#a090f0"/><rect x="612.54" y="1548.0" width="1.99" height="102.5" fill="#0000FF"/><rect x="613.93" y="1548.0" width="1.85" height="102.5" fill="#6a5cf0"/><rect x="615.18" y="1548.0" width="1.97" height="102.5" fill="#0000FF"/><rect x="616.55" y="1548.0" width="1.94" height="102.5" fill="#0000FF"/><rect x="617.89" y="1548.0" width="1.17" height="102.5" fill="#6a5cf0"/><rect x="618.46" y="1548.0" width="1.85" height="102.5" fill="#a090f0"/><rect x="619.71" y="1548.0" width="1.40" height="102.5" fill="#a090f0"/><rect x="620.51" y="1548.0" width="1.08" height="102.5" fill="#a090f0"/><rect x="620.99" y="1548.0" width="1.33" height="102.5" fill="#6a5cf0"/><rect x="621.72" y="1548.0" width="1.17" height="102.5" fill="#0000FF"/><rect x="622.28" y="1548.0" width="1.06" height="102.5" fill="#6a5cf0"/><rect x="622.74" y="1548.0" width="1.58" height="102.5" fill="#a090f0"/><rect x="623.72" y="1548.0" width="1.86" height="102.5" fill="#0000FF"/><rect x="624.98" y="1548.0" width="1.85" height="102.5" fill="#0000FF"/><rect x="626.24" y="1548.0" width="1.89" height="102.5" fill="#0000FF"/><rect x="627.52" y="1548.0" width="1.94" height="102.5" fill="#0000FF"/><rect x="628.87" y="1548.0" width="1.46" height="102.5" fill="#6a5cf0"/><rect x="629.72" y="1548.0" width="1.11" height="102.5" fill="#0000FF"/><rect x="630.23" y="1548.0" width="1.57" height="102.5" fill="#6a5cf0"/><rect x="631.20" y="1548.0" width="1.09" height="102.5" fill="#0000FF"/><rect x="631.69" y="1548.0" width="1.40" height="102.5" fill="#6a5cf0"/><rect x="632.49" y="1548.0" width="1.99" height="102.5" fill="#0000FF"/><rect x="633.88" y="1548.0" width="1.57" height="102.5" fill="#0000FF"/><rect x="634.85" y="1548.0" width="1.79" height="102.5" fill="#a090f0"/><rect x="636.04" y="1548.0" width="1.72" height="102.5" fill="#6a5cf0"/><rect x="637.16" y="1548.0" width="1.09" height="102.5" fill="#0000FF"/><rect x="637.65" y="1548.0" width="1.28" height="102.5" fill="#0000FF"/><rect x="638.33" y="1548.0" width="1.17" height="102.5" fill="#a090f0"/><rect x="638.90" y="1548.0" width="11.60" height="102.5" fill="#0000FF"/><rect x="649.90" y="1548.0" width="12.70" height="102.5" fill="#FFC0CB"/><rect x="662.00" y="1548.0" width="3.90" height="102.5" fill="#3a20e0"/><rect x="665.30" y="1548.0" width="51.90" height="102.5" fill="#FF0000"/><rect x="716.60" y="1548.0" width="2.50" height="102.5" fill="#2a10e0"/><rect x="718.50" y="1548.0" width="1.67" height="102.5" fill="#5040e0"/><rect x="719.57" y="1548.0" width="1.96" height="102.5" fill="#7a50d0"/><rect x="720.93" y="1548.0" width="1.11" height="102.5" fill="#5040e0"/><rect x="721.44" y="1548.0" width="1.37" height="102.5" fill="#9080c0"/><rect x="722.20" y="1548.0" width="1.82" height="102.5" fill="#7a50d0"/><rect x="723.43" y="1548.0" width="1.91" height="102.5" fill="#9080c0"/><rect x="724.74" y="1548.0" width="1.12" height="102.5" fill="#c090a0"/><rect x="725.26" y="1548.0" width="1.59" height="102.5" fill="#7a50d0"/><rect x="726.25" y="1548.0" width="1.85" height="102.5" fill="#5040e0"/><rect x="727.50" y="1548.0" width="1.75" height="102.5" fill="#a090b0"/><rect x="728.65" y="1548.0" width="1.99" height="102.5" fill="#7a50d0"/><rect x="730.05" y="1548.0" width="1.98" height="102.5" fill="#a090b0"/><rect x="731.42" y="1548.0" width="1.29" height="102.5" fill="#a090b0"/><rect x="732.11" y="1548.0" width="1.37" height="102.5" fill="#a090b0"/><rect x="732.88" y="1548.0" width="1.72" height="102.5" fill="#a090b0"/><rect x="734.00" y="1548.0" width="1.14" height="102.5" fill="#9080c0"/><rect x="734.55" y="1548.0" width="1.34" height="102.5" fill="#5040e0"/><rect x="735.28" y="1548.0" width="1.93" height="102.5" fill="#5040e0"/><rect x="736.62" y="1548.0" width="1.55" height="102.5" fill="#7a50d0"/><rect x="737.57" y="1548.0" width="1.72" height="102.5" fill="#9080c0"/><rect x="738.69" y="1548.0" width="2.00" height="102.5" fill="#7a50d0"/><rect x="740.09" y="1548.0" width="1.97" height="102.5" fill="#7a50d0"/><rect x="741.46" y="1548.0" width="0.74" height="102.5" fill="#9080c0"/><rect x="741.60" y="1548.0" width="1.16" height="102.5" fill="#a8a8c0"/><rect x="742.16" y="1548.0" width="1.62" height="102.5" fill="#a8a8c0"/><rect x="743.17" y="1548.0" width="1.18" height="102.5" fill="#a8a8c0"/><rect x="743.75" y="1548.0" width="1.45" height="102.5" fill="#a8a8c0"/><rect x="744.60" y="1548.0" width="1.42" height="102.5" fill="#90a8d0"/><rect x="745.42" y="1548.0" width="1.17" height="102.5" fill="#a8a8c0"/><rect x="745.99" y="1548.0" width="1.08" height="102.5" fill="#a8a8c0"/><rect x="746.47" y="1548.0" width="1.14" height="102.5" fill="#90a8d0"/><rect x="747.01" y="1548.0" width="1.35" height="102.5" fill="#90a8d0"/><rect x="747.76" y="1548.0" width="0.84" height="102.5" fill="#90a8d0"/><rect x="748.00" y="1548.0" width="10.30" height="102.5" fill="#A52A2A"/><rect x="757.70" y="1548.0" width="1.57" height="102.5" fill="#40E0D0"/><rect x="758.67" y="1548.0" width="1.85" height="102.5" fill="#40E0D0"/><rect x="759.92" y="1548.0" width="1.53" height="102.5" fill="#40E0D0"/><rect x="760.86" y="1548.0" width="1.44" height="102.5" fill="#60c4c4"/><rect x="761.70" y="1548.0" width="1.15" height="102.5" fill="#8a9c9a"/><rect x="762.25" y="1548.0" width="1.26" height="102.5" fill="#40E0D0"/><rect x="762.91" y="1548.0" width="2.00" height="102.5" fill="#40E0D0"/><rect x="764.31" y="1548.0" width="1.63" height="102.5" fill="#8a9c9a"/><rect x="765.34" y="1548.0" width="1.74" height="102.5" fill="#8a9c9a"/><rect x="766.49" y="1548.0" width="1.21" height="102.5" fill="#8a9c9a"/><rect x="767.10" y="1548.0" width="1.44" height="102.5" fill="#60c4c4"/><rect x="767.93" y="1548.0" width="1.58" height="102.5" fill="#40E0D0"/><rect x="768.92" y="1548.0" width="1.69" height="102.5" fill="#40E0D0"/><rect x="770.01" y="1548.0" width="1.54" height="102.5" fill="#40E0D0"/><rect x="770.95" y="1548.0" width="1.44" height="102.5" fill="#60c4c4"/><rect x="771.79" y="1548.0" width="1.54" height="102.5" fill="#60c4c4"/><rect x="772.73" y="1548.0" width="1.77" height="102.5" fill="#8a9c9a"/><rect x="773.89" y="1548.0" width="1.66" height="102.5" fill="#8a9c9a"/><rect x="774.96" y="1548.0" width="1.64" height="102.5" fill="#60c4c4"/><rect x="775.99" y="1548.0" width="1.14" height="102.5" fill="#60c4c4"/><rect x="776.54" y="1548.0" width="1.40" height="102.5" fill="#40E0D0"/><rect x="777.34" y="1548.0" width="1.19" height="102.5" fill="#40E0D0"/><rect x="777.93" y="1548.0" width="1.12" height="102.5" fill="#8a9c9a"/><rect x="778.45" y="1548.0" width="1.44" height="102.5" fill="#8a9c9a"/><rect x="779.29" y="1548.0" width="1.49" height="102.5" fill="#60c4c4"/><rect x="780.18" y="1548.0" width="1.68" height="102.5" fill="#40E0D0"/><rect x="781.26" y="1548.0" width="1.88" height="102.5" fill="#8a9c9a"/><rect x="782.54" y="1548.0" width="1.97" height="102.5" fill="#60c4c4"/><rect x="783.91" y="1548.0" width="1.97" height="102.5" fill="#40E0D0"/><rect x="785.28" y="1548.0" width="1.31" height="102.5" fill="#60c4c4"/><rect x="785.99" y="1548.0" width="1.07" height="102.5" fill="#60c4c4"/><rect x="786.46" y="1548.0" width="1.91" height="102.5" fill="#40E0D0"/><rect x="787.78" y="1548.0" width="1.19" height="102.5" fill="#60c4c4"/><rect x="788.37" y="1548.0" width="1.96" height="102.5" fill="#60c4c4"/><rect x="789.73" y="1548.0" width="1.74" height="102.5" fill="#60c4c4"/><rect x="790.87" y="1548.0" width="1.34" height="102.5" fill="#40E0D0"/><rect x="791.61" y="1548.0" width="1.65" height="102.5" fill="#60c4c4"/><rect x="792.66" y="1548.0" width="1.95" height="102.5" fill="#8a9c9a"/><rect x="794.01" y="1548.0" width="1.06" height="102.5" fill="#40E0D0"/><rect x="794.47" y="1548.0" width="1.48" height="102.5" fill="#40E0D0"/><rect x="795.35" y="1548.0" width="1.08" height="102.5" fill="#40E0D0"/><rect x="795.82" y="1548.0" width="1.52" height="102.5" fill="#40E0D0"/><rect x="796.75" y="1548.0" width="1.16" height="102.5" fill="#40E0D0"/><rect x="797.30" y="1548.0" width="1.08" height="102.5" fill="#60c4c4"/><rect x="797.79" y="1548.0" width="1.87" height="102.5" fill="#40E0D0"/><rect x="799.06" y="1548.0" width="1.65" height="102.5" fill="#60c4c4"/><rect x="800.11" y="1548.0" width="1.28" height="102.5" fill="#40E0D0"/><rect x="800.79" y="1548.0" width="1.89" height="102.5" fill="#60c4c4"/><rect x="802.08" y="1548.0" width="1.64" height="102.5" fill="#60c4c4"/><rect x="803.12" y="1548.0" width="1.59" height="102.5" fill="#40E0D0"/><rect x="804.11" y="1548.0" width="1.70" height="102.5" fill="#60c4c4"/><rect x="805.21" y="1548.0" width="1.10" height="102.5" fill="#40E0D0"/><rect x="805.72" y="1548.0" width="1.33" height="102.5" fill="#60c4c4"/><rect x="806.45" y="1548.0" width="1.32" height="102.5" fill="#8a9c9a"/><rect x="807.17" y="1548.0" width="1.46" height="102.5" fill="#8a9c9a"/><rect x="808.03" y="1548.0" width="1.52" height="102.5" fill="#60c4c4"/><rect x="808.96" y="1548.0" width="1.64" height="102.5" fill="#8a9c9a"/><rect x="810.00" y="1548.0" width="1.56" height="102.5" fill="#40E0D0"/><rect x="810.96" y="1548.0" width="1.08" height="102.5" fill="#72857D"/><rect x="811.44" y="1548.0" width="1.25" height="102.5" fill="#40E0D0"/><rect x="812.09" y="1548.0" width="1.43" height="102.5" fill="#72857D"/><rect x="812.92" y="1548.0" width="1.99" height="102.5" fill="#72857D"/><rect x="814.31" y="1548.0" width="1.99" height="102.5" fill="#5ab8a8"/><rect x="815.70" y="1548.0" width="1.28" height="102.5" fill="#40E0D0"/><rect x="816.38" y="1548.0" width="1.20" height="102.5" fill="#5ab8a8"/><rect x="816.98" y="1548.0" width="1.62" height="102.5" fill="#5ab8a8"/><rect x="818.00" y="1548.0" width="1.97" height="102.5" fill="#72857D"/><rect x="819.38" y="1548.0" width="1.56" height="102.5" fill="#40E0D0"/><rect x="820.33" y="1548.0" width="1.07" height="102.5" fill="#5ab8a8"/><rect x="820.81" y="1548.0" width="1.69" height="102.5" fill="#72857D"/><rect x="821.90" y="1548.0" width="1.59" height="102.5" fill="#72857D"/><rect x="822.88" y="1548.0" width="1.66" height="102.5" fill="#5ab8a8"/><rect x="823.94" y="1548.0" width="1.16" height="102.5" fill="#72857D"/><rect x="824.50" y="1548.0" width="1.34" height="102.5" fill="#5ab8a8"/><rect x="825.24" y="1548.0" width="1.88" height="102.5" fill="#40E0D0"/><rect x="826.52" y="1548.0" width="1.13" height="102.5" fill="#40E0D0"/><rect x="827.05" y="1548.0" width="1.35" height="102.5" fill="#72857D"/><rect x="827.80" y="1548.0" width="1.44" height="102.5" fill="#72857D"/><rect x="828.64" y="1548.0" width="1.34" height="102.5" fill="#72857D"/><rect x="829.37" y="1548.0" width="1.23" height="102.5" fill="#72857D"/><rect x="830.00" y="1548.0" width="1.54" height="102.5" fill="#5ab8a8"/><rect x="830.94" y="1548.0" width="1.95" height="102.5" fill="#72857D"/><rect x="832.29" y="1548.0" width="1.11" height="102.5" fill="#5ab8a8"/><rect x="832.80" y="1548.0" width="1.95" height="102.5" fill="#72857D"/><rect x="834.15" y="1548.0" width="1.51" height="102.5" fill="#5ab8a8"/><rect x="835.06" y="1548.0" width="1.29" height="102.5" fill="#40E0D0"/><rect x="835.75" y="1548.0" width="1.71" height="102.5" fill="#72857D"/><rect x="836.86" y="1548.0" width="1.70" height="102.5" fill="#5ab8a8"/><rect x="837.97" y="1548.0" width="1.54" height="102.5" fill="#40E0D0"/><rect x="838.90" y="1548.0" width="1.26" height="102.5" fill="#40E0D0"/><rect x="839.57" y="1548.0" width="1.40" height="102.5" fill="#40E0D0"/><rect x="840.37" y="1548.0" width="1.75" height="102.5" fill="#72857D"/><rect x="841.52" y="1548.0" width="1.54" height="102.5" fill="#40E0D0"/><rect x="842.46" y="1548.0" width="1.64" height="102.5" fill="#40E0D0"/><rect x="843.50" y="1548.0" width="1.81" height="102.5" fill="#72857D"/><rect x="844.71" y="1548.0" width="1.71" height="102.5" fill="#40E0D0"/><rect x="845.82" y="1548.0" width="1.54" height="102.5" fill="#72857D"/><rect x="846.76" y="1548.0" width="1.96" height="102.5" fill="#72857D"/><rect x="848.12" y="1548.0" width="1.35" height="102.5" fill="#72857D"/><rect x="848.87" y="1548.0" width="1.16" height="102.5" fill="#40E0D0"/><rect x="849.44" y="1548.0" width="1.08" height="102.5" fill="#72857D"/><rect x="849.92" y="1548.0" width="1.29" height="102.5" fill="#40E0D0"/><rect x="850.61" y="1548.0" width="1.80" height="102.5" fill="#72857D"/><rect x="851.81" y="1548.0" width="1.09" height="102.5" fill="#40E0D0"/><rect x="852.29" y="1548.0" width="1.06" height="102.5" fill="#5ab8a8"/><rect x="852.75" y="1548.0" width="1.52" height="102.5" fill="#5ab8a8"/><rect x="853.67" y="1548.0" width="1.30" height="102.5" fill="#5ab8a8"/><rect x="854.37" y="1548.0" width="1.18" height="102.5" fill="#5ab8a8"/><rect x="854.95" y="1548.0" width="1.42" height="102.5" fill="#40E0D0"/><rect x="855.77" y="1548.0" width="1.92" height="102.5" fill="#5ab8a8"/><rect x="857.09" y="1548.0" width="1.23" height="102.5" fill="#72857D"/><rect x="857.73" y="1548.0" width="1.50" height="102.5" fill="#40E0D0"/><rect x="858.63" y="1548.0" width="0.97" height="102.5" fill="#5ab8a8"/><rect x="824.40" y="1548.0" width="3.80" height="102.5" fill="#FA8072"/><rect x="859.00" y="1548.0" width="98.40" height="102.5" fill="#A52A2A"/><rect x="956.80" y="1548.0" width="414.20" height="102.5" fill="#40E0D0"/></g>
<line x1="203.60" y1="1446.60" x2="1371.00" y2="1446.60" stroke="#303838" stroke-width="1.3" />
<line x1="203.60" y1="1548.30" x2="1371.00" y2="1548.30" stroke="#000" stroke-width="2.2" />
<line x1="203.60" y1="1650.60" x2="1371.00" y2="1650.60" stroke="#000" stroke-width="1.5" />
</svg></body></html>
